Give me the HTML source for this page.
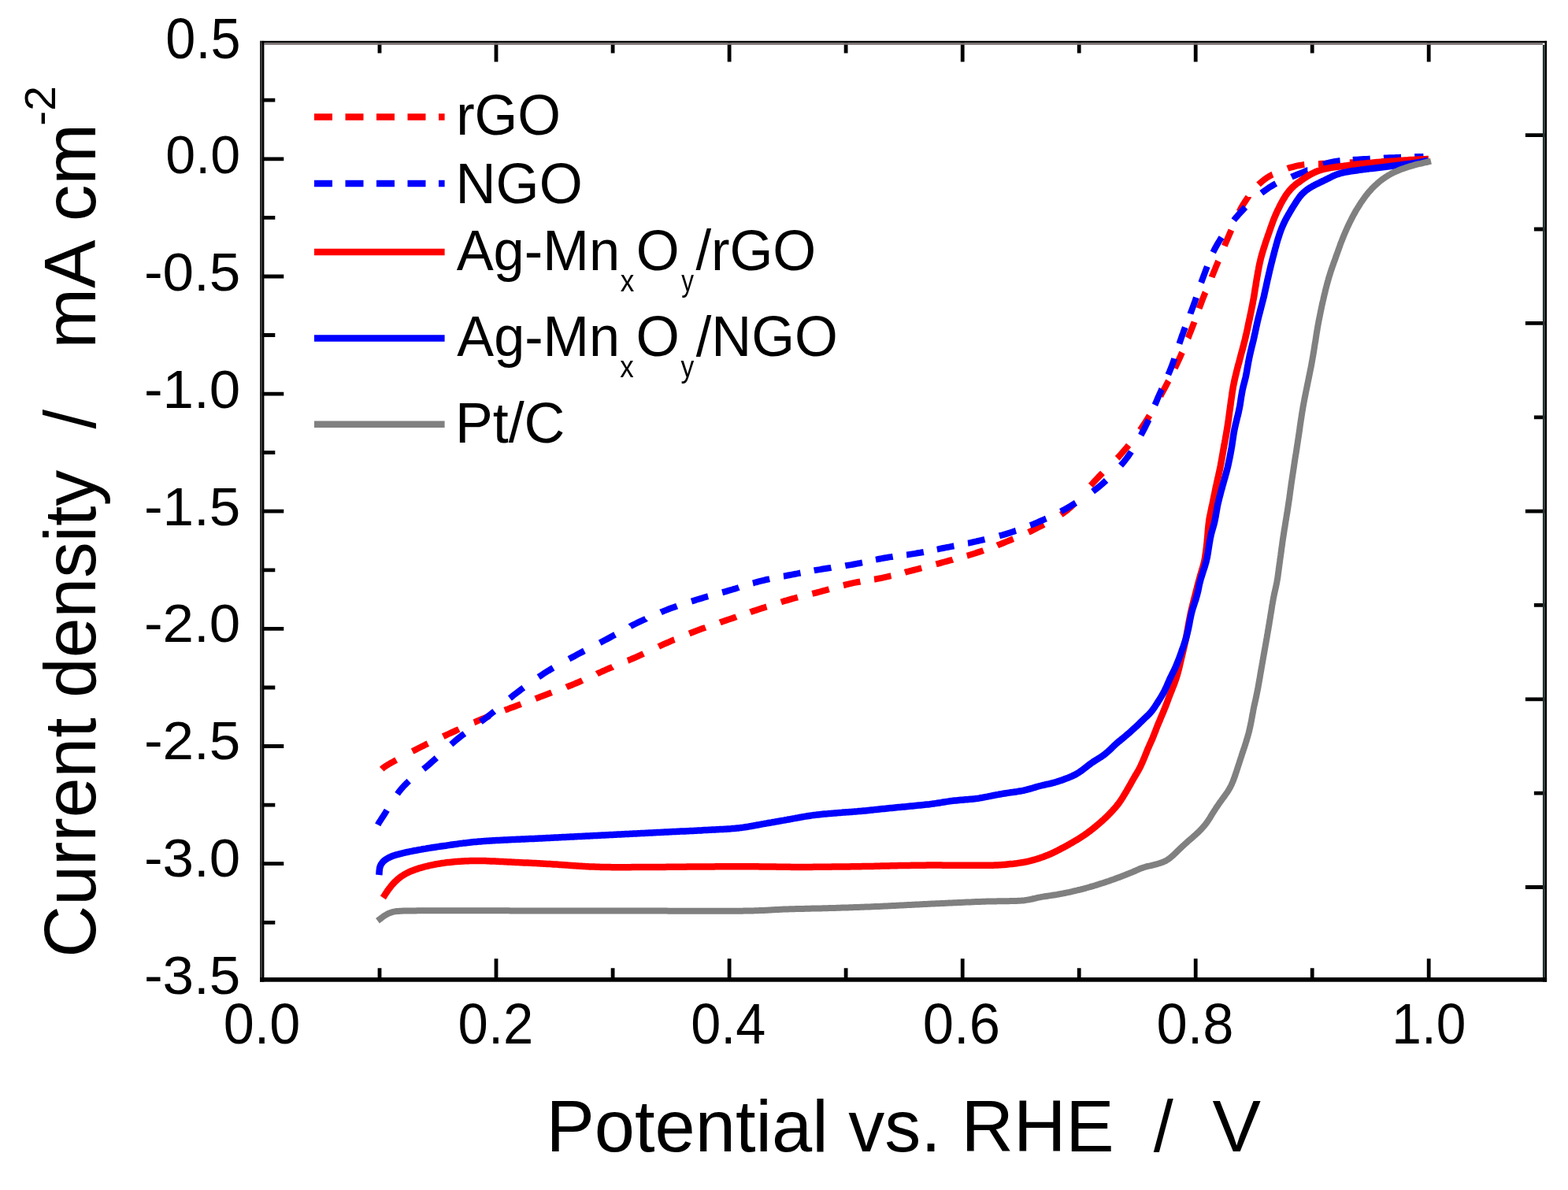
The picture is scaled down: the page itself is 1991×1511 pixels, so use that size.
<!DOCTYPE html>
<html><head><meta charset="utf-8"><title>ORR polarization curves</title>
<style>html,body{margin:0;padding:0;background:#fff;}svg{display:block;}</style>
</head><body>
<svg width="1991" height="1511" viewBox="0 0 1991 1511">
<rect x="0" y="0" width="1991" height="1511" fill="#ffffff"/>
<g fill="none" stroke-linejoin="round" stroke-linecap="butt" stroke-width="8">
<path stroke="#ff0000" d="M484.7,976.7 L484.8,976.6 L485.1,976.3 L485.4,976.0 L485.9,975.6 L486.4,975.1 L487.0,974.6 L487.8,974.0 L488.9,973.3 L490.2,972.5 L491.7,971.5 L493.6,970.4 L495.9,969.1 L498.5,967.6 L501.4,966.0 L503.2,965.0 M523.6,954.0 L526.4,952.6 L530.0,950.7 L533.4,949.0 L536.7,947.4 L540.0,945.7 L543.3,944.1 L543.3,944.1 M562.7,935.1 L562.9,935.0 L566.2,933.5 L569.4,932.0 L572.7,930.5 L576.0,929.0 L579.3,927.5 L582.5,926.0 L582.7,925.9 M601.9,917.3 L602.2,917.2 L605.5,915.8 L608.7,914.4 L612.0,913.0 L615.3,911.7 L618.5,910.3 L621.8,909.0 L622.2,908.9 M640.9,901.8 L641.4,901.6 L644.7,900.4 L647.9,899.1 L651.2,897.9 L654.5,896.7 L657.7,895.4 L661.0,894.2 L661.5,894.0 M679.9,887.1 L680.4,886.9 L683.7,885.7 L686.9,884.4 L690.2,883.2 L693.5,882.0 L696.7,880.8 L700.0,879.6 L700.5,879.4 M719.2,872.5 L719.6,872.3 L722.9,871.0 L726.2,869.7 L729.4,868.4 L732.6,867.0 L735.8,865.7 L739.1,864.2 L739.5,864.0 M757.9,855.6 L758.2,855.4 L761.5,854.0 L764.7,852.5 L767.9,851.1 L771.1,849.7 L774.4,848.3 L777.7,847.0 L778.0,846.8 M797.0,838.9 L797.3,838.8 L800.6,837.4 L803.8,836.0 L807.1,834.6 L810.4,833.1 L813.6,831.7 L816.9,830.1 L817.1,830.0 M836.3,821.0 L836.5,820.9 L839.8,819.4 L843.0,817.9 L846.3,816.5 L849.6,815.1 L852.8,813.7 L856.1,812.3 L856.4,812.2 M875.2,804.5 L875.7,804.3 L879.0,803.0 L882.2,801.7 L885.5,800.5 L888.8,799.3 L892.0,798.1 L895.3,796.9 L895.8,796.7 M914.2,790.4 L914.9,790.1 L918.1,789.0 L921.4,787.9 L924.6,786.8 L927.8,785.7 L931.0,784.6 L934.3,783.5 L935.0,783.2 M952.7,777.3 L953.4,777.0 L956.6,775.9 L959.9,774.9 L963.1,773.8 L966.3,772.7 L969.6,771.7 L972.8,770.6 L973.5,770.4 M991.8,764.5 L992.4,764.3 L995.7,763.2 L999.0,762.3 L1002.3,761.3 L1005.6,760.4 L1008.9,759.5 L1012.2,758.6 L1012.9,758.4 M1031.4,753.8 L1032.2,753.6 L1035.5,752.8 L1038.8,752.0 L1042.1,751.1 L1045.4,750.2 L1048.7,749.3 L1052.0,748.4 L1052.7,748.2 M1070.9,743.2 L1071.8,743.0 L1075.0,742.2 L1078.3,741.4 L1081.6,740.6 L1084.9,739.9 L1088.2,739.3 L1091.4,738.7 L1092.4,738.5 M1110.0,735.6 L1111.0,735.5 L1114.3,734.9 L1117.5,734.3 L1120.8,733.6 L1124.0,732.9 L1127.3,732.2 L1130.5,731.4 L1131.5,731.2 M1149.0,726.8 L1149.9,726.5 L1153.1,725.7 L1156.3,724.8 L1159.6,724.0 L1162.9,723.2 L1166.2,722.3 L1169.5,721.4 L1170.2,721.2 M1188.6,716.4 L1189.3,716.2 L1192.6,715.3 L1195.9,714.4 L1199.2,713.5 L1202.5,712.6 L1205.8,711.7 L1209.0,710.9 L1209.8,710.6 M1227.8,705.7 L1228.6,705.5 L1231.8,704.5 L1235.1,703.5 L1238.3,702.5 L1241.5,701.4 L1244.7,700.4 L1247.9,699.3 L1248.7,699.0 M1266.3,692.5 L1266.9,692.2 L1270.1,691.0 L1273.3,689.7 L1276.5,688.4 L1279.7,687.1 L1283.0,685.8 L1286.2,684.4 L1286.7,684.2 M1305.9,675.9 L1309.2,674.3 L1312.5,672.7 L1315.8,671.0 L1319.1,669.3 L1322.5,667.6 L1325.6,666.0 M1347.2,653.5 L1349.5,651.9 L1352.8,649.5 L1356.0,647.0 L1359.2,644.3 L1362.3,641.4 L1364.1,639.6 M1384.9,616.5 L1386.4,614.8 L1389.4,611.5 L1392.3,608.4 L1395.2,605.4 L1398.1,602.4 L1400.0,600.5 M1418.6,581.8 L1420.8,579.6 L1423.4,576.7 L1426.0,573.7 L1428.5,570.7 L1431.0,567.8 L1433.1,565.3 M1447.6,546.0 L1449.4,543.5 L1451.6,540.2 L1453.8,536.9 L1456.0,533.5 L1458.2,529.9 L1459.6,527.6 M1473.4,503.0 L1474.9,500.2 L1476.8,496.7 L1478.6,493.3 L1480.3,490.1 L1482.0,486.9 L1483.6,483.9 L1483.8,483.6 M1491.8,467.6 L1492.3,466.5 L1493.7,463.6 L1495.1,460.7 L1496.5,457.6 L1497.9,454.5 L1499.3,451.3 L1500.7,448.1 L1501.0,447.5 M1508.5,429.2 L1508.8,428.7 L1510.1,425.4 L1511.3,422.2 L1512.6,419.0 L1513.8,415.8 L1515.0,412.7 L1516.2,409.6 L1516.5,408.7 M1522.6,391.6 L1522.9,390.8 L1524.1,387.7 L1525.3,384.5 L1526.5,381.3 L1527.8,378.1 L1529.1,374.8 L1530.4,371.5 L1530.6,371.1 M1538.6,351.9 L1538.7,351.6 L1540.1,348.3 L1541.4,345.0 L1542.8,341.7 L1544.1,338.4 L1545.5,335.2 L1546.8,331.9 L1547.0,331.5 M1554.8,312.3 L1556.2,309.0 L1557.6,305.6 L1559.1,302.2 L1560.6,298.7 L1562.1,295.1 L1563.4,292.1 M1573.6,268.7 L1575.1,265.7 L1577.0,262.3 L1578.9,259.1 L1580.9,256.0 L1582.9,253.0 L1585.0,250.0 L1585.0,249.9 M1598.1,234.3 L1598.6,233.8 L1601.2,231.5 L1603.8,229.3 L1606.5,227.2 L1609.3,225.3 L1612.3,223.4 L1615.4,221.7 L1615.9,221.5 M1634.9,213.9 L1635.4,213.7 L1638.8,212.7 L1642.2,211.8 L1645.5,210.9 L1648.8,210.2 L1652.0,209.6 L1655.3,209.1 L1656.3,209.0 M1674.0,207.9 L1675.1,207.9 L1678.4,207.8 L1681.7,207.7 L1685.0,207.5 L1688.3,207.3 L1691.6,207.1 L1695.0,207.0 L1696.0,207.0 M1714.0,206.4 L1715.0,206.3 L1718.3,206.2 L1721.7,206.1 L1725.0,206.0 L1728.3,205.9 L1731.7,205.8 L1735.0,205.6 L1736.0,205.6 M1754.0,204.9 L1755.0,204.9 L1758.3,204.8 L1761.7,204.6 L1765.0,204.5 L1768.5,204.4 L1772.1,204.2 L1775.9,204.1 L1776.0,204.1 M1794.0,203.4 L1794.6,203.4 L1797.8,203.3 L1800.6,203.2 L1803.1,203.1 L1805.0,203.0 L1805.0,203.0"/>
<path stroke="#0000ff" d="M479.7,1047.3 L479.8,1047.1 L480.0,1046.8 L480.2,1046.5 L480.4,1046.1 L480.6,1045.7 L480.9,1045.1 L481.3,1044.5 L481.8,1043.7 L482.5,1042.6 L483.3,1041.4 L484.3,1039.8 L485.5,1038.0 L486.9,1035.8 L488.6,1033.2 L490.4,1030.2 L491.3,1028.7 M504.6,1008.2 L506.3,1005.8 L508.9,1002.6 L511.4,999.6 L514.0,996.8 L516.7,994.1 L519.2,991.8 M537.6,976.6 L540.1,974.6 L543.1,972.1 L546.0,969.6 L548.9,967.0 L551.8,964.4 L554.2,962.2 M572.8,945.2 L575.2,943.2 L578.2,940.6 L581.2,938.1 L584.3,935.6 L587.4,933.2 L589.9,931.4 M610.3,916.6 L612.8,914.8 L616.0,912.4 L619.1,910.0 L622.2,907.5 L625.3,905.0 L627.7,903.1 M647.4,886.6 L649.9,884.6 L652.9,882.2 L656.0,879.8 L659.1,877.5 L662.1,875.2 L664.8,873.2 M683.8,859.7 L686.7,857.8 L689.8,855.7 L693.0,853.7 L696.2,851.7 L699.4,849.8 L702.4,848.0 M722.5,836.8 L725.6,835.1 L728.9,833.4 L732.2,831.6 L735.5,829.8 L738.7,828.1 L741.9,826.4 M761.7,816.2 L764.9,814.5 L768.2,812.8 L771.4,811.1 L774.6,809.4 L777.9,807.6 L781.1,805.9 M800.3,795.4 L800.4,795.3 L803.6,793.6 L806.9,792.0 L810.1,790.4 L813.3,788.8 L816.6,787.3 L819.9,785.8 L820.0,785.7 M839.1,777.4 L839.5,777.2 L842.8,775.9 L846.0,774.6 L849.3,773.3 L852.6,772.1 L855.8,770.9 L859.1,769.7 L859.6,769.5 M878.0,763.5 L878.7,763.3 L882.0,762.3 L885.2,761.3 L888.5,760.3 L891.8,759.3 L895.0,758.3 L898.3,757.4 L899.1,757.2 M917.1,752.2 L917.9,752.0 L921.2,751.1 L924.4,750.1 L927.7,749.2 L930.9,748.2 L934.2,747.3 L937.4,746.3 L938.2,746.0 M955.9,740.5 L956.8,740.3 L960.0,739.3 L963.3,738.4 L966.5,737.6 L969.8,736.8 L973.0,736.0 L976.3,735.3 L977.2,735.1 M994.9,731.6 L995.9,731.5 L999.2,730.8 L1002.4,730.2 L1005.7,729.6 L1008.9,729.0 L1012.2,728.4 L1015.4,727.7 L1016.5,727.5 M1033.7,724.4 L1034.7,724.2 L1038.0,723.6 L1041.2,723.1 L1044.5,722.5 L1047.8,722.0 L1051.1,721.5 L1054.4,721.0 L1055.4,720.8 M1073.3,718.3 L1074.3,718.1 L1077.6,717.6 L1080.9,717.1 L1084.2,716.5 L1087.5,715.9 L1090.7,715.3 L1093.9,714.6 L1095.0,714.4 M1112.0,710.6 L1113.1,710.4 L1116.3,709.7 L1119.6,709.1 L1122.8,708.5 L1126.0,708.0 L1129.3,707.4 L1132.6,707.0 L1133.7,706.8 M1151.1,704.5 L1152.2,704.4 L1155.5,703.9 L1158.8,703.4 L1162.0,702.9 L1165.2,702.3 L1168.5,701.8 L1171.7,701.2 L1172.8,701.0 M1189.8,697.6 L1190.9,697.4 L1194.1,696.7 L1197.4,696.0 L1200.6,695.4 L1203.8,694.8 L1207.1,694.1 L1210.3,693.5 L1211.4,693.3 M1229.0,689.7 L1229.9,689.6 L1233.1,688.9 L1236.4,688.1 L1239.7,687.4 L1243.0,686.6 L1246.3,685.9 L1249.6,685.1 L1250.4,684.9 M1268.9,680.4 L1269.6,680.2 L1272.9,679.3 L1276.2,678.3 L1279.5,677.3 L1282.8,676.3 L1286.0,675.2 L1289.3,674.1 L1290.0,673.9 M1308.1,667.1 L1308.7,666.9 L1311.9,665.6 L1315.1,664.3 L1318.3,662.9 L1321.5,661.5 L1324.7,660.1 L1327.9,658.7 L1328.4,658.5 M1347.0,649.4 L1350.1,647.7 L1353.4,646.0 L1356.6,644.1 L1359.9,642.2 L1363.2,640.2 L1366.0,638.5 M1387.6,624.1 L1390.0,622.3 L1393.2,619.8 L1396.3,617.3 L1399.3,614.7 L1402.4,612.0 L1404.6,610.0 M1423.0,591.1 L1425.0,588.8 L1427.6,585.7 L1430.0,582.6 L1432.4,579.5 L1434.6,576.3 L1436.4,573.6 M1448.7,552.6 L1450.3,549.5 L1452.1,546.2 L1453.8,542.9 L1455.4,539.6 L1457.0,536.4 L1458.5,533.2 L1458.6,533.0 M1466.4,514.3 L1466.6,513.9 L1468.0,510.6 L1469.3,507.4 L1470.7,504.2 L1472.1,501.0 L1473.6,497.8 L1475.0,494.5 L1475.2,494.2 M1483.4,475.7 L1483.6,475.2 L1485.0,472.0 L1486.3,468.8 L1487.6,465.5 L1488.8,462.2 L1490.0,458.9 L1491.2,455.6 L1491.3,455.2 M1497.5,436.4 L1497.7,435.8 L1498.8,432.5 L1499.9,429.2 L1501.0,426.0 L1502.2,422.8 L1503.3,419.6 L1504.5,416.5 L1504.8,415.7 M1511.5,398.5 L1511.7,397.7 L1512.9,394.6 L1514.1,391.4 L1515.3,388.2 L1516.5,385.0 L1517.6,381.7 L1518.7,378.4 L1518.9,377.8 M1525.2,358.9 L1525.4,358.4 L1526.6,355.1 L1527.8,351.8 L1529.0,348.6 L1530.2,345.4 L1531.4,342.2 L1532.6,339.1 L1532.9,338.3 M1540.3,320.5 L1540.4,320.3 L1541.9,317.2 L1543.6,314.0 L1545.4,310.8 L1547.3,307.5 L1549.3,304.2 L1551.1,301.4 M1566.7,279.6 L1568.4,277.4 L1571.1,274.3 L1573.8,271.2 L1576.6,268.2 L1579.4,265.2 L1581.4,263.2 M1601.8,245.1 L1604.3,243.2 L1607.5,240.9 L1610.7,238.7 L1613.9,236.7 L1617.1,234.8 L1620.2,233.1 M1639.9,224.6 L1640.1,224.5 L1643.4,223.2 L1646.8,221.8 L1650.1,220.5 L1653.5,219.1 L1656.8,217.7 L1660.2,216.3 L1660.3,216.3 M1680.2,208.9 L1680.8,208.7 L1684.2,207.7 L1687.5,206.7 L1690.8,205.9 L1694.1,205.2 L1697.3,204.6 L1700.5,204.2 L1701.6,204.1 M1717.8,202.9 L1719.3,202.8 L1722.4,202.7 L1725.6,202.5 L1728.8,202.3 L1732.0,202.1 L1735.3,201.9 L1738.5,201.7 L1739.8,201.6 M1757.0,200.7 L1758.2,200.6 L1761.4,200.5 L1764.7,200.3 L1768.0,200.2 L1771.4,200.1 L1775.0,199.9 L1778.8,199.8 L1779.0,199.8 M1796.5,199.2 L1797.2,199.1 L1800.4,199.0 L1803.2,198.9 L1805.6,198.9 L1807.5,198.8 L1807.5,198.8"/>
<path stroke="#ff0000" stroke-width="8.5" d="M486.4,1139.8 L487.6,1138.0 L488.7,1136.3 L489.7,1134.7 L490.8,1133.1 L491.9,1131.4 L493.1,1129.8 L494.2,1128.2 L495.5,1126.6 L496.7,1125.0 L498.0,1123.5 L499.3,1122.0 L500.7,1120.5 L502.1,1119.1 L503.5,1117.8 L505.0,1116.4 L506.5,1115.2 L508.1,1113.9 L509.7,1112.8 L511.4,1111.7 L513.1,1110.6 L514.8,1109.6 L516.6,1108.6 L518.4,1107.8 L520.2,1106.9 L522.0,1106.1 L523.9,1105.4 L525.7,1104.7 L527.6,1104.0 L529.5,1103.4 L531.4,1102.7 L533.3,1102.2 L535.2,1101.6 L537.2,1101.1 L539.1,1100.5 L541.1,1100.0 L543.0,1099.6 L544.9,1099.1 L546.9,1098.7 L548.9,1098.3 L550.8,1097.9 L552.8,1097.5 L554.8,1097.1 L556.7,1096.8 L558.7,1096.5 L560.7,1096.1 L562.7,1095.9 L564.6,1095.6 L566.6,1095.3 L568.6,1095.1 L570.6,1094.9 L572.6,1094.7 L574.6,1094.5 L576.6,1094.3 L578.6,1094.1 L580.6,1094.0 L582.6,1093.8 L584.6,1093.7 L586.6,1093.5 L588.6,1093.4 L590.6,1093.3 L592.6,1093.2 L594.6,1093.2 L596.6,1093.1 L598.6,1093.0 L600.6,1093.0 L602.6,1093.0 L604.6,1092.9 L606.6,1092.9 L608.6,1093.0 L610.6,1093.0 L612.6,1093.0 L614.6,1093.1 L616.6,1093.1 L618.6,1093.2 L620.6,1093.3 L622.6,1093.4 L624.6,1093.4 L626.6,1093.5 L628.6,1093.6 L630.6,1093.7 L632.6,1093.8 L634.6,1093.9 L636.6,1094.0 L638.6,1094.1 L640.6,1094.2 L642.6,1094.3 L644.6,1094.4 L646.6,1094.5 L648.6,1094.6 L650.6,1094.7 L652.6,1094.8 L654.6,1094.9 L656.6,1095.0 L658.6,1095.1 L660.6,1095.2 L662.6,1095.3 L664.6,1095.4 L666.6,1095.5 L668.6,1095.5 L670.6,1095.6 L672.6,1095.7 L674.6,1095.8 L676.6,1095.9 L678.6,1096.0 L680.6,1096.1 L682.6,1096.2 L684.6,1096.3 L686.6,1096.5 L688.6,1096.6 L690.6,1096.7 L692.6,1096.8 L694.6,1096.9 L696.6,1097.0 L698.6,1097.1 L700.6,1097.2 L702.6,1097.4 L704.6,1097.5 L706.6,1097.6 L708.6,1097.7 L710.6,1097.9 L712.6,1098.0 L714.6,1098.2 L716.6,1098.3 L718.6,1098.4 L720.6,1098.6 L722.6,1098.7 L724.6,1098.9 L726.6,1099.0 L728.6,1099.2 L730.6,1099.3 L732.6,1099.4 L734.6,1099.6 L736.6,1099.7 L738.6,1099.8 L740.6,1099.9 L742.6,1100.1 L744.6,1100.2 L746.5,1100.3 L748.5,1100.4 L750.5,1100.5 L752.6,1100.6 L754.6,1100.6 L756.6,1100.7 L758.6,1100.8 L760.6,1100.8 L762.6,1100.9 L764.6,1101.0 L766.6,1101.0 L768.6,1101.0 L770.6,1101.1 L772.6,1101.1 L774.6,1101.1 L776.6,1101.2 L778.6,1101.2 L780.6,1101.2 L782.6,1101.2 L784.6,1101.2 L786.6,1101.2 L788.6,1101.2 L790.6,1101.2 L792.6,1101.2 L794.6,1101.2 L796.6,1101.2 L798.6,1101.2 L800.6,1101.2 L802.6,1101.1 L804.6,1101.1 L806.6,1101.1 L808.6,1101.1 L810.6,1101.1 L812.6,1101.1 L814.6,1101.0 L816.6,1101.0 L818.6,1101.0 L820.6,1101.0 L822.6,1101.0 L824.6,1101.0 L826.6,1101.0 L828.6,1100.9 L830.6,1100.9 L832.6,1100.9 L834.6,1100.9 L836.6,1100.9 L838.6,1100.9 L840.7,1100.9 L842.7,1100.9 L844.7,1100.9 L846.7,1100.8 L848.7,1100.8 L850.7,1100.8 L852.7,1100.8 L854.7,1100.8 L856.7,1100.8 L858.7,1100.8 L860.7,1100.7 L862.7,1100.7 L864.7,1100.7 L866.7,1100.7 L868.7,1100.7 L870.7,1100.7 L872.7,1100.6 L874.7,1100.6 L876.7,1100.6 L878.7,1100.6 L880.7,1100.6 L882.7,1100.6 L884.7,1100.5 L886.7,1100.5 L888.7,1100.5 L890.7,1100.5 L892.7,1100.5 L894.7,1100.5 L896.7,1100.4 L898.7,1100.4 L900.7,1100.4 L902.7,1100.4 L904.7,1100.4 L906.7,1100.4 L908.7,1100.3 L910.7,1100.3 L912.7,1100.3 L914.7,1100.3 L916.7,1100.3 L918.7,1100.3 L920.7,1100.3 L922.8,1100.3 L924.8,1100.2 L926.8,1100.2 L928.8,1100.2 L930.8,1100.2 L932.8,1100.2 L934.8,1100.2 L936.8,1100.2 L938.8,1100.2 L940.8,1100.2 L942.8,1100.2 L944.8,1100.2 L946.8,1100.2 L948.8,1100.2 L950.8,1100.2 L952.8,1100.3 L954.8,1100.3 L956.8,1100.3 L958.8,1100.3 L960.8,1100.3 L962.8,1100.3 L964.8,1100.4 L966.8,1100.4 L968.8,1100.4 L970.8,1100.4 L972.8,1100.5 L974.8,1100.5 L976.8,1100.5 L978.8,1100.5 L980.8,1100.6 L982.8,1100.6 L984.8,1100.6 L986.8,1100.7 L988.8,1100.7 L990.8,1100.7 L992.8,1100.7 L994.8,1100.8 L996.8,1100.8 L998.8,1100.8 L1000.8,1100.8 L1002.8,1100.8 L1004.9,1100.9 L1006.9,1100.9 L1008.9,1100.9 L1010.9,1100.9 L1012.9,1100.9 L1014.9,1100.9 L1016.9,1100.9 L1018.9,1100.9 L1020.9,1100.9 L1022.9,1100.9 L1024.9,1100.9 L1026.9,1100.9 L1028.9,1100.9 L1030.9,1100.9 L1032.9,1100.8 L1034.9,1100.8 L1036.9,1100.8 L1038.9,1100.8 L1040.9,1100.8 L1042.9,1100.8 L1044.9,1100.8 L1046.9,1100.7 L1048.9,1100.7 L1050.9,1100.7 L1052.9,1100.7 L1054.9,1100.7 L1056.9,1100.6 L1058.9,1100.6 L1060.9,1100.6 L1062.9,1100.6 L1064.9,1100.5 L1066.9,1100.5 L1068.9,1100.5 L1070.9,1100.5 L1072.9,1100.4 L1074.9,1100.4 L1076.9,1100.4 L1078.9,1100.4 L1080.9,1100.3 L1082.9,1100.3 L1084.9,1100.3 L1086.9,1100.3 L1089.0,1100.2 L1091.0,1100.2 L1093.0,1100.2 L1095.0,1100.1 L1097.0,1100.1 L1099.0,1100.1 L1101.0,1100.0 L1103.0,1100.0 L1105.0,1099.9 L1107.0,1099.9 L1109.0,1099.9 L1111.0,1099.8 L1113.0,1099.8 L1115.0,1099.7 L1117.0,1099.7 L1119.0,1099.6 L1121.0,1099.6 L1123.0,1099.5 L1125.0,1099.5 L1127.0,1099.4 L1129.0,1099.4 L1131.0,1099.3 L1133.0,1099.3 L1135.0,1099.2 L1137.0,1099.2 L1139.0,1099.2 L1141.0,1099.1 L1143.0,1099.1 L1145.0,1099.0 L1147.0,1099.0 L1149.0,1099.0 L1151.0,1098.9 L1153.0,1098.9 L1155.0,1098.9 L1157.0,1098.8 L1159.0,1098.8 L1161.0,1098.8 L1163.0,1098.7 L1165.0,1098.7 L1167.0,1098.7 L1169.0,1098.7 L1171.0,1098.7 L1173.0,1098.7 L1175.0,1098.7 L1177.0,1098.6 L1179.0,1098.6 L1181.1,1098.6 L1183.1,1098.6 L1185.1,1098.6 L1187.1,1098.6 L1189.1,1098.6 L1191.1,1098.6 L1193.1,1098.6 L1195.1,1098.6 L1197.1,1098.7 L1199.1,1098.7 L1201.1,1098.7 L1203.1,1098.7 L1205.1,1098.7 L1207.1,1098.7 L1209.1,1098.7 L1211.1,1098.7 L1213.1,1098.7 L1215.1,1098.7 L1217.1,1098.7 L1219.1,1098.8 L1221.1,1098.8 L1223.1,1098.8 L1225.1,1098.8 L1227.1,1098.8 L1229.1,1098.8 L1231.1,1098.8 L1233.1,1098.8 L1235.1,1098.8 L1237.1,1098.8 L1239.1,1098.8 L1241.1,1098.8 L1243.1,1098.8 L1245.1,1098.8 L1247.1,1098.8 L1249.1,1098.8 L1251.1,1098.8 L1253.1,1098.8 L1255.1,1098.8 L1257.1,1098.7 L1259.1,1098.7 L1261.2,1098.7 L1263.2,1098.6 L1265.2,1098.5 L1267.2,1098.4 L1269.2,1098.3 L1271.1,1098.2 L1273.1,1098.0 L1275.1,1097.9 L1277.1,1097.7 L1279.1,1097.5 L1281.1,1097.3 L1283.1,1097.1 L1285.1,1096.9 L1287.1,1096.7 L1289.1,1096.4 L1291.1,1096.2 L1293.0,1095.9 L1295.0,1095.6 L1297.0,1095.3 L1299.0,1095.0 L1301.0,1094.6 L1302.9,1094.3 L1304.9,1093.8 L1306.8,1093.4 L1308.8,1092.9 L1310.7,1092.4 L1312.6,1091.8 L1314.5,1091.3 L1316.5,1090.7 L1318.4,1090.1 L1320.3,1089.5 L1322.2,1088.8 L1324.1,1088.2 L1326.0,1087.5 L1327.8,1086.8 L1329.7,1086.1 L1331.5,1085.3 L1333.4,1084.6 L1335.2,1083.7 L1337.0,1082.9 L1338.8,1082.0 L1340.6,1081.1 L1342.4,1080.2 L1344.2,1079.3 L1346.0,1078.4 L1347.7,1077.4 L1349.5,1076.5 L1351.3,1075.6 L1353.0,1074.6 L1354.8,1073.7 L1356.5,1072.7 L1358.3,1071.7 L1360.0,1070.7 L1361.8,1069.7 L1363.5,1068.7 L1365.2,1067.7 L1366.9,1066.7 L1368.6,1065.6 L1370.3,1064.6 L1372.0,1063.5 L1373.7,1062.4 L1375.4,1061.3 L1377.0,1060.2 L1378.7,1059.0 L1380.3,1057.9 L1381.9,1056.7 L1383.5,1055.5 L1385.1,1054.3 L1386.7,1053.0 L1388.3,1051.8 L1389.8,1050.5 L1391.4,1049.3 L1392.9,1048.0 L1394.4,1046.7 L1396.0,1045.4 L1397.5,1044.1 L1399.0,1042.8 L1400.5,1041.4 L1402.0,1040.1 L1403.4,1038.7 L1404.9,1037.3 L1406.3,1035.9 L1407.7,1034.5 L1409.1,1033.1 L1410.5,1031.6 L1411.9,1030.2 L1413.2,1028.7 L1414.6,1027.2 L1415.9,1025.7 L1417.2,1024.2 L1418.4,1022.6 L1419.7,1021.1 L1420.9,1019.5 L1422.0,1017.9 L1423.2,1016.2 L1424.3,1014.5 L1425.4,1012.8 L1426.4,1011.1 L1427.4,1009.4 L1428.5,1007.7 L1429.5,1006.0 L1430.5,1004.3 L1431.5,1002.5 L1432.5,1000.8 L1433.5,999.0 L1434.5,997.3 L1435.5,995.6 L1436.4,993.8 L1437.4,992.1 L1438.4,990.3 L1439.4,988.6 L1440.4,986.9 L1441.4,985.1 L1442.5,983.4 L1443.5,981.7 L1444.5,980.0 L1445.5,978.2 L1446.4,976.5 L1447.4,974.7 L1448.3,972.9 L1449.1,971.1 L1449.9,969.3 L1450.7,967.5 L1451.5,965.6 L1452.3,963.8 L1453.1,961.9 L1453.8,960.1 L1454.6,958.2 L1455.3,956.4 L1456.1,954.5 L1456.8,952.6 L1457.6,950.8 L1458.4,949.0 L1459.2,947.1 L1460.0,945.3 L1460.8,943.5 L1461.7,941.6 L1462.5,939.8 L1463.3,938.0 L1464.0,936.1 L1464.8,934.3 L1465.5,932.4 L1466.2,930.5 L1467.0,928.7 L1467.7,926.8 L1468.4,924.9 L1469.1,923.1 L1469.9,921.2 L1470.6,919.4 L1471.4,917.5 L1472.2,915.7 L1473.0,913.8 L1473.7,912.0 L1474.5,910.1 L1475.3,908.3 L1476.1,906.4 L1476.9,904.6 L1477.6,902.8 L1478.4,900.9 L1479.1,899.0 L1479.9,897.2 L1480.6,895.3 L1481.3,893.5 L1482.0,891.6 L1482.7,889.7 L1483.4,887.8 L1484.1,885.9 L1484.8,884.1 L1485.5,882.2 L1486.3,880.3 L1487.0,878.5 L1487.8,876.6 L1488.5,874.8 L1489.2,872.9 L1490.0,871.0 L1490.7,869.2 L1491.4,867.3 L1492.1,865.4 L1492.7,863.5 L1493.4,861.6 L1494.0,859.7 L1494.6,857.8 L1495.1,855.9 L1495.7,854.0 L1496.2,852.0 L1496.7,850.1 L1497.2,848.1 L1497.7,846.2 L1498.1,844.3 L1498.6,842.3 L1499.0,840.4 L1499.5,838.4 L1499.9,836.4 L1500.4,834.5 L1500.9,832.6 L1501.3,830.6 L1501.8,828.7 L1502.3,826.7 L1502.7,824.8 L1503.2,822.8 L1503.6,820.9 L1504.1,818.9 L1504.5,817.0 L1505.0,815.0 L1505.4,813.0 L1505.8,811.1 L1506.2,809.1 L1506.6,807.2 L1506.9,805.2 L1507.3,803.2 L1507.6,801.2 L1508.0,799.3 L1508.3,797.3 L1508.7,795.3 L1509.0,793.4 L1509.4,791.4 L1509.8,789.4 L1510.1,787.5 L1510.5,785.5 L1510.9,783.5 L1511.3,781.6 L1511.7,779.6 L1512.1,777.6 L1512.6,775.7 L1513.0,773.7 L1513.5,771.8 L1514.0,769.8 L1514.4,767.9 L1514.9,766.0 L1515.4,764.0 L1515.9,762.1 L1516.4,760.1 L1516.9,758.2 L1517.4,756.2 L1517.9,754.3 L1518.4,752.4 L1518.9,750.4 L1519.4,748.5 L1519.9,746.6 L1520.4,744.6 L1520.9,742.7 L1521.4,740.7 L1521.9,738.8 L1522.5,736.9 L1523.0,735.0 L1523.5,733.0 L1524.1,731.1 L1524.6,729.2 L1525.2,727.2 L1525.8,725.3 L1526.3,723.4 L1526.9,721.5 L1527.5,719.6 L1528.0,717.7 L1528.5,715.7 L1529.0,713.8 L1529.4,711.8 L1529.8,709.9 L1530.1,707.9 L1530.4,705.9 L1530.7,703.9 L1531.0,701.9 L1531.3,700.0 L1531.5,698.0 L1531.8,696.0 L1532.0,694.0 L1532.2,692.0 L1532.5,690.0 L1532.7,688.0 L1532.8,686.0 L1533.0,684.0 L1533.2,682.0 L1533.4,680.0 L1533.5,678.1 L1533.7,676.1 L1533.8,674.1 L1534.0,672.1 L1534.2,670.1 L1534.4,668.1 L1534.6,666.1 L1534.9,664.1 L1535.1,662.1 L1535.4,660.1 L1535.7,658.2 L1536.1,656.2 L1536.5,654.2 L1536.9,652.3 L1537.3,650.3 L1537.7,648.3 L1538.1,646.4 L1538.5,644.4 L1538.9,642.5 L1539.4,640.5 L1539.8,638.6 L1540.2,636.6 L1540.6,634.6 L1541.0,632.7 L1541.4,630.7 L1541.8,628.7 L1542.2,626.8 L1542.6,624.8 L1543.0,622.9 L1543.4,620.9 L1543.8,618.9 L1544.2,617.0 L1544.7,615.0 L1545.1,613.1 L1545.5,611.1 L1546.0,609.2 L1546.4,607.2 L1546.9,605.3 L1547.3,603.3 L1547.7,601.4 L1548.2,599.4 L1548.6,597.4 L1549.0,595.5 L1549.4,593.5 L1549.8,591.5 L1550.1,589.6 L1550.5,587.6 L1550.9,585.6 L1551.2,583.7 L1551.6,581.7 L1551.9,579.7 L1552.2,577.8 L1552.6,575.8 L1552.9,573.8 L1553.3,571.8 L1553.6,569.9 L1554.0,567.9 L1554.3,565.9 L1554.7,564.0 L1555.1,562.0 L1555.4,560.0 L1555.8,558.0 L1556.1,556.1 L1556.5,554.1 L1556.9,552.1 L1557.2,550.2 L1557.5,548.2 L1557.9,546.2 L1558.2,544.2 L1558.5,542.3 L1558.8,540.3 L1559.1,538.3 L1559.4,536.3 L1559.7,534.3 L1560.0,532.4 L1560.2,530.4 L1560.5,528.4 L1560.8,526.4 L1561.0,524.4 L1561.3,522.4 L1561.6,520.4 L1561.9,518.5 L1562.1,516.5 L1562.4,514.5 L1562.7,512.5 L1562.9,510.5 L1563.2,508.5 L1563.5,506.6 L1563.8,504.6 L1564.1,502.6 L1564.3,500.6 L1564.6,498.6 L1564.9,496.7 L1565.3,494.7 L1565.6,492.7 L1565.9,490.7 L1566.3,488.8 L1566.7,486.8 L1567.1,484.8 L1567.5,482.9 L1568.0,480.9 L1568.4,479.0 L1568.9,477.0 L1569.4,475.1 L1569.8,473.1 L1570.3,471.2 L1570.8,469.3 L1571.3,467.3 L1571.8,465.4 L1572.3,463.4 L1572.9,461.5 L1573.4,459.6 L1573.9,457.6 L1574.4,455.7 L1574.9,453.8 L1575.4,451.8 L1575.9,449.9 L1576.4,448.0 L1577.0,446.0 L1577.5,444.1 L1578.0,442.2 L1578.5,440.2 L1579.0,438.3 L1579.5,436.3 L1580.0,434.4 L1580.5,432.5 L1581.0,430.5 L1581.4,428.6 L1581.9,426.6 L1582.3,424.7 L1582.8,422.7 L1583.2,420.8 L1583.7,418.8 L1584.1,416.8 L1584.5,414.9 L1584.9,412.9 L1585.3,411.0 L1585.7,409.0 L1586.1,407.1 L1586.6,405.1 L1587.0,403.1 L1587.4,401.2 L1587.8,399.2 L1588.2,397.3 L1588.6,395.3 L1589.0,393.3 L1589.4,391.4 L1589.8,389.4 L1590.2,387.4 L1590.6,385.5 L1590.9,383.5 L1591.3,381.5 L1591.7,379.6 L1592.0,377.6 L1592.4,375.6 L1592.7,373.6 L1593.0,371.7 L1593.3,369.7 L1593.6,367.7 L1593.9,365.7 L1594.3,363.8 L1594.6,361.8 L1594.9,359.8 L1595.2,357.8 L1595.5,355.9 L1595.9,353.9 L1596.2,351.9 L1596.6,349.9 L1596.9,348.0 L1597.2,346.0 L1597.6,344.0 L1598.0,342.0 L1598.3,340.1 L1598.7,338.1 L1599.1,336.2 L1599.5,334.2 L1600.0,332.2 L1600.4,330.3 L1600.9,328.3 L1601.4,326.4 L1601.9,324.5 L1602.5,322.5 L1603.0,320.6 L1603.6,318.7 L1604.2,316.8 L1604.8,314.9 L1605.4,313.0 L1606.0,311.1 L1606.6,309.2 L1607.2,307.3 L1607.9,305.4 L1608.5,303.5 L1609.2,301.6 L1609.8,299.7 L1610.5,297.8 L1611.2,295.9 L1611.8,294.0 L1612.5,292.1 L1613.1,290.2 L1613.8,288.3 L1614.5,286.5 L1615.1,284.6 L1615.8,282.7 L1616.5,280.8 L1617.2,278.9 L1618.0,277.1 L1618.7,275.2 L1619.5,273.4 L1620.3,271.5 L1621.1,269.7 L1621.9,267.9 L1622.8,266.1 L1623.7,264.3 L1624.6,262.5 L1625.5,260.7 L1626.4,258.9 L1627.4,257.2 L1628.3,255.4 L1629.3,253.7 L1630.3,252.0 L1631.4,250.2 L1632.4,248.6 L1633.5,246.9 L1634.7,245.3 L1635.9,243.7 L1637.2,242.1 L1638.5,240.6 L1639.8,239.2 L1641.2,237.8 L1642.7,236.4 L1644.2,235.1 L1645.8,233.8 L1647.3,232.6 L1649.0,231.5 L1650.6,230.3 L1652.2,229.1 L1653.8,228.0 L1655.5,226.8 L1657.1,225.7 L1658.8,224.6 L1660.5,223.5 L1662.2,222.5 L1664.0,221.5 L1665.7,220.6 L1667.5,219.7 L1669.3,218.8 L1671.1,218.0 L1673.0,217.3 L1674.8,216.6 L1676.7,215.9 L1678.7,215.4 L1680.6,214.9 L1682.5,214.4 L1684.5,214.0 L1686.4,213.6 L1688.4,213.2 L1690.4,212.9 L1692.4,212.6 L1694.3,212.3 L1696.3,212.0 L1698.3,211.7 L1700.3,211.5 L1702.3,211.2 L1704.3,210.9 L1706.2,210.7 L1708.2,210.4 L1710.2,210.2 L1712.2,209.9 L1714.2,209.7 L1716.2,209.5 L1718.2,209.2 L1720.2,209.0 L1722.2,208.8 L1724.1,208.6 L1726.1,208.3 L1728.1,208.1 L1730.1,207.9 L1732.1,207.7 L1734.1,207.5 L1736.1,207.3 L1738.1,207.1 L1740.1,206.9 L1742.1,206.7 L1744.1,206.5 L1746.1,206.3 L1748.1,206.1 L1750.0,206.0 L1752.0,205.8 L1754.0,205.7 L1756.0,205.5 L1758.0,205.4 L1760.0,205.2 L1762.0,205.1 L1764.0,205.0 L1766.0,204.8 L1768.0,204.7 L1770.0,204.6 L1772.0,204.4 L1774.0,204.3 L1776.0,204.1 L1778.0,204.0 L1780.0,203.8 L1782.0,203.7 L1784.0,203.5 L1786.0,203.4 L1788.0,203.3 L1790.0,203.1 L1792.0,203.0 L1794.0,202.9 L1796.0,202.8 L1798.0,202.7 L1800.0,202.6 L1802.0,202.5 L1804.0,202.4 L1805.9,202.3 L1807.9,202.3 L1809.9,202.2 L1811.9,202.1 L1814.0,202.0"/>
<path stroke="#0000ff" stroke-width="8.5" d="M481.3,1111.0 L481.5,1108.9 L481.6,1106.9 L481.8,1104.9 L482.0,1103.0 L482.4,1101.1 L483.0,1099.3 L483.9,1097.5 L485.0,1096.0 L486.1,1094.5 L487.5,1093.1 L489.0,1091.9 L490.6,1090.8 L492.3,1089.8 L494.1,1088.9 L495.9,1088.0 L497.7,1087.3 L499.6,1086.6 L501.5,1085.9 L503.4,1085.3 L505.3,1084.8 L507.2,1084.3 L509.2,1083.8 L511.1,1083.3 L513.1,1082.9 L515.0,1082.4 L517.0,1082.0 L519.0,1081.6 L520.9,1081.2 L522.9,1080.8 L524.8,1080.4 L526.8,1080.0 L528.8,1079.7 L530.7,1079.3 L532.7,1078.9 L534.7,1078.6 L536.7,1078.2 L538.6,1077.9 L540.6,1077.6 L542.6,1077.2 L544.6,1076.9 L546.5,1076.6 L548.5,1076.3 L550.5,1076.0 L552.5,1075.7 L554.5,1075.4 L556.4,1075.1 L558.4,1074.8 L560.4,1074.5 L562.4,1074.2 L564.4,1073.9 L566.3,1073.7 L568.3,1073.4 L570.3,1073.1 L572.3,1072.8 L574.3,1072.5 L576.3,1072.2 L578.2,1071.9 L580.2,1071.7 L582.2,1071.4 L584.2,1071.1 L586.2,1070.9 L588.2,1070.6 L590.2,1070.4 L592.1,1070.2 L594.1,1069.9 L596.1,1069.7 L598.1,1069.5 L600.1,1069.3 L602.1,1069.1 L604.1,1068.9 L606.1,1068.7 L608.1,1068.5 L610.1,1068.4 L612.1,1068.2 L614.1,1068.1 L616.1,1067.9 L618.1,1067.8 L620.1,1067.7 L622.1,1067.5 L624.1,1067.4 L626.1,1067.3 L628.1,1067.2 L630.1,1067.1 L632.1,1067.0 L634.1,1066.9 L636.1,1066.8 L638.1,1066.7 L640.1,1066.6 L642.1,1066.5 L644.1,1066.4 L646.1,1066.3 L648.1,1066.2 L650.1,1066.1 L652.1,1066.0 L654.1,1065.9 L656.1,1065.8 L658.1,1065.8 L660.1,1065.7 L662.1,1065.6 L664.1,1065.5 L666.1,1065.4 L668.1,1065.3 L670.1,1065.2 L672.1,1065.1 L674.1,1065.1 L676.1,1065.0 L678.1,1064.9 L680.1,1064.8 L682.1,1064.7 L684.1,1064.6 L686.1,1064.5 L688.1,1064.4 L690.1,1064.3 L692.1,1064.2 L694.1,1064.1 L696.1,1064.0 L698.1,1063.9 L700.1,1063.8 L702.1,1063.7 L704.1,1063.6 L706.1,1063.5 L708.1,1063.4 L710.1,1063.3 L712.1,1063.2 L714.1,1063.1 L716.1,1063.0 L718.1,1062.9 L720.1,1062.8 L722.1,1062.7 L724.1,1062.6 L726.1,1062.5 L728.1,1062.4 L730.1,1062.3 L732.1,1062.2 L734.1,1062.1 L736.1,1062.0 L738.1,1061.9 L740.1,1061.8 L742.1,1061.7 L744.1,1061.6 L746.1,1061.5 L748.1,1061.4 L750.1,1061.3 L752.1,1061.2 L754.1,1061.1 L756.1,1061.0 L758.1,1060.9 L760.1,1060.8 L762.1,1060.7 L764.1,1060.6 L766.1,1060.5 L768.1,1060.4 L770.1,1060.3 L772.1,1060.2 L774.1,1060.1 L776.1,1060.0 L778.1,1059.9 L780.1,1059.8 L782.1,1059.7 L784.1,1059.6 L786.1,1059.5 L788.1,1059.4 L790.1,1059.3 L792.1,1059.2 L794.1,1059.1 L796.1,1059.0 L798.1,1058.9 L800.1,1058.8 L802.1,1058.7 L804.1,1058.6 L806.1,1058.5 L808.1,1058.4 L810.1,1058.3 L812.1,1058.2 L814.1,1058.1 L816.1,1058.0 L818.1,1057.9 L820.1,1057.8 L822.1,1057.7 L824.1,1057.6 L826.1,1057.5 L828.1,1057.4 L830.1,1057.3 L832.1,1057.2 L834.1,1057.1 L836.1,1057.0 L838.1,1056.9 L840.1,1056.8 L842.1,1056.7 L844.1,1056.6 L846.1,1056.5 L848.1,1056.4 L850.1,1056.3 L852.1,1056.2 L854.1,1056.1 L856.1,1056.0 L858.1,1055.9 L860.1,1055.8 L862.1,1055.7 L864.1,1055.6 L866.1,1055.5 L868.1,1055.4 L870.1,1055.4 L872.1,1055.3 L874.1,1055.2 L876.1,1055.1 L878.1,1055.0 L880.1,1054.9 L882.1,1054.8 L884.1,1054.7 L886.1,1054.6 L888.1,1054.5 L890.1,1054.4 L892.1,1054.2 L894.1,1054.1 L896.1,1054.0 L898.1,1053.9 L900.1,1053.8 L902.1,1053.7 L904.1,1053.6 L906.1,1053.5 L908.1,1053.4 L910.1,1053.3 L912.1,1053.2 L914.1,1053.1 L916.1,1053.0 L918.1,1052.9 L920.1,1052.8 L922.1,1052.7 L924.1,1052.5 L926.1,1052.4 L928.1,1052.3 L930.1,1052.1 L932.1,1052.0 L934.1,1051.8 L936.1,1051.6 L938.1,1051.4 L940.0,1051.1 L942.0,1050.9 L944.0,1050.6 L946.0,1050.3 L948.0,1050.0 L949.9,1049.7 L951.9,1049.3 L953.9,1049.0 L955.9,1048.6 L957.8,1048.3 L959.8,1047.9 L961.8,1047.5 L963.7,1047.2 L965.7,1046.8 L967.7,1046.4 L969.6,1046.1 L971.6,1045.7 L973.6,1045.4 L975.6,1045.0 L977.5,1044.7 L979.5,1044.4 L981.5,1044.0 L983.5,1043.7 L985.4,1043.3 L987.4,1043.0 L989.4,1042.6 L991.3,1042.3 L993.3,1041.9 L995.3,1041.6 L997.3,1041.2 L999.2,1040.9 L1001.2,1040.5 L1003.2,1040.2 L1005.1,1039.8 L1007.1,1039.4 L1009.1,1039.1 L1011.0,1038.7 L1013.0,1038.4 L1015.0,1038.0 L1017.0,1037.6 L1018.9,1037.3 L1020.9,1036.9 L1022.9,1036.6 L1024.9,1036.3 L1026.8,1036.0 L1028.8,1035.7 L1030.8,1035.4 L1032.8,1035.1 L1034.8,1034.9 L1036.8,1034.6 L1038.7,1034.4 L1040.7,1034.2 L1042.7,1034.0 L1044.7,1033.8 L1046.7,1033.6 L1048.7,1033.4 L1050.7,1033.3 L1052.7,1033.1 L1054.7,1032.9 L1056.7,1032.7 L1058.7,1032.6 L1060.7,1032.4 L1062.7,1032.2 L1064.7,1032.1 L1066.7,1031.9 L1068.7,1031.8 L1070.7,1031.6 L1072.7,1031.5 L1074.7,1031.3 L1076.7,1031.2 L1078.7,1031.0 L1080.6,1030.9 L1082.6,1030.7 L1084.6,1030.6 L1086.6,1030.4 L1088.6,1030.3 L1090.6,1030.1 L1092.6,1029.9 L1094.6,1029.7 L1096.6,1029.5 L1098.6,1029.4 L1100.6,1029.2 L1102.6,1029.0 L1104.6,1028.8 L1106.6,1028.6 L1108.6,1028.4 L1110.6,1028.1 L1112.6,1027.9 L1114.5,1027.7 L1116.5,1027.5 L1118.5,1027.3 L1120.5,1027.1 L1122.5,1026.9 L1124.5,1026.7 L1126.5,1026.5 L1128.5,1026.3 L1130.5,1026.1 L1132.5,1025.9 L1134.5,1025.7 L1136.5,1025.5 L1138.5,1025.3 L1140.5,1025.1 L1142.4,1024.9 L1144.4,1024.7 L1146.4,1024.5 L1148.4,1024.4 L1150.4,1024.2 L1152.4,1024.0 L1154.4,1023.8 L1156.4,1023.6 L1158.4,1023.4 L1160.4,1023.2 L1162.4,1023.0 L1164.4,1022.8 L1166.4,1022.6 L1168.4,1022.5 L1170.4,1022.3 L1172.3,1022.1 L1174.3,1021.8 L1176.3,1021.6 L1178.3,1021.4 L1180.3,1021.2 L1182.3,1020.9 L1184.3,1020.6 L1186.3,1020.4 L1188.2,1020.1 L1190.2,1019.8 L1192.2,1019.5 L1194.2,1019.2 L1196.2,1018.8 L1198.1,1018.5 L1200.1,1018.2 L1202.1,1017.9 L1204.1,1017.6 L1206.1,1017.3 L1208.0,1017.1 L1210.0,1016.8 L1212.0,1016.6 L1214.0,1016.4 L1216.0,1016.2 L1218.0,1016.0 L1220.0,1015.8 L1222.0,1015.7 L1224.0,1015.5 L1226.0,1015.3 L1228.0,1015.2 L1230.0,1015.0 L1232.0,1014.8 L1234.0,1014.7 L1235.9,1014.4 L1237.9,1014.2 L1239.9,1013.9 L1241.9,1013.7 L1243.9,1013.4 L1245.8,1013.0 L1247.8,1012.7 L1249.8,1012.3 L1251.8,1011.9 L1253.7,1011.6 L1255.7,1011.2 L1257.6,1010.8 L1259.6,1010.4 L1261.6,1010.0 L1263.5,1009.6 L1265.5,1009.2 L1267.5,1008.9 L1269.4,1008.5 L1271.4,1008.2 L1273.4,1007.8 L1275.4,1007.5 L1277.4,1007.2 L1279.3,1006.9 L1281.3,1006.6 L1283.3,1006.3 L1285.3,1006.1 L1287.3,1005.8 L1289.2,1005.5 L1291.2,1005.2 L1293.2,1004.8 L1295.2,1004.5 L1297.1,1004.2 L1299.1,1003.8 L1301.1,1003.3 L1303.0,1002.9 L1304.9,1002.4 L1306.9,1001.9 L1308.8,1001.3 L1310.7,1000.8 L1312.6,1000.2 L1314.6,999.6 L1316.5,999.0 L1318.4,998.5 L1320.3,998.0 L1322.3,997.5 L1324.2,997.0 L1326.2,996.6 L1328.1,996.1 L1330.1,995.7 L1332.0,995.3 L1334.0,994.8 L1335.9,994.3 L1337.9,993.8 L1339.8,993.3 L1341.7,992.7 L1343.6,992.1 L1345.5,991.5 L1347.4,990.9 L1349.3,990.2 L1351.2,989.5 L1353.1,988.8 L1354.9,988.1 L1356.8,987.4 L1358.6,986.6 L1360.5,985.8 L1362.3,985.0 L1364.1,984.2 L1365.9,983.2 L1367.6,982.3 L1369.3,981.2 L1371.0,980.1 L1372.6,979.0 L1374.2,977.8 L1375.8,976.6 L1377.4,975.4 L1379.0,974.2 L1380.6,972.9 L1382.1,971.7 L1383.7,970.5 L1385.3,969.3 L1387.0,968.2 L1388.6,967.0 L1390.3,966.0 L1392.0,964.9 L1393.7,963.9 L1395.4,962.8 L1397.1,961.7 L1398.8,960.6 L1400.4,959.5 L1402.0,958.3 L1403.6,957.1 L1405.1,955.8 L1406.7,954.5 L1408.1,953.2 L1409.6,951.8 L1411.0,950.4 L1412.4,949.0 L1413.9,947.6 L1415.3,946.2 L1416.8,944.9 L1418.3,943.5 L1419.8,942.2 L1421.4,941.0 L1422.9,939.7 L1424.5,938.4 L1426.0,937.2 L1427.6,935.9 L1429.1,934.6 L1430.6,933.3 L1432.1,932.0 L1433.7,930.7 L1435.2,929.4 L1436.7,928.0 L1438.1,926.7 L1439.6,925.3 L1441.1,924.0 L1442.6,922.6 L1444.0,921.3 L1445.5,919.9 L1446.9,918.5 L1448.3,917.1 L1449.8,915.7 L1451.2,914.3 L1452.6,912.9 L1454.1,911.5 L1455.5,910.2 L1457.0,908.8 L1458.4,907.4 L1459.8,906.0 L1461.1,904.5 L1462.4,903.0 L1463.6,901.4 L1464.8,899.8 L1465.9,898.2 L1467.0,896.5 L1468.1,894.8 L1469.2,893.1 L1470.3,891.4 L1471.3,889.7 L1472.4,888.1 L1473.4,886.4 L1474.5,884.6 L1475.5,882.9 L1476.5,881.2 L1477.5,879.4 L1478.4,877.7 L1479.3,875.9 L1480.1,874.1 L1481.0,872.2 L1481.8,870.4 L1482.6,868.6 L1483.4,866.7 L1484.2,864.9 L1485.0,863.1 L1485.8,861.3 L1486.7,859.4 L1487.6,857.6 L1488.4,855.9 L1489.3,854.1 L1490.2,852.3 L1491.1,850.5 L1491.9,848.6 L1492.8,846.8 L1493.6,845.0 L1494.3,843.1 L1495.1,841.3 L1495.8,839.4 L1496.6,837.6 L1497.3,835.7 L1498.0,833.8 L1498.7,831.9 L1499.3,830.1 L1500.0,828.2 L1500.7,826.3 L1501.3,824.4 L1502.0,822.5 L1502.7,820.6 L1503.3,818.7 L1504.0,816.8 L1504.6,814.9 L1505.2,813.0 L1505.8,811.1 L1506.3,809.2 L1506.8,807.2 L1507.3,805.3 L1507.8,803.3 L1508.2,801.4 L1508.7,799.4 L1509.1,797.5 L1509.5,795.5 L1509.9,793.6 L1510.3,791.6 L1510.6,789.6 L1511.0,787.7 L1511.4,785.7 L1511.8,783.7 L1512.2,781.8 L1512.6,779.8 L1513.1,777.9 L1513.6,775.9 L1514.2,774.0 L1514.7,772.1 L1515.4,770.2 L1516.0,768.3 L1516.6,766.4 L1517.2,764.5 L1517.9,762.6 L1518.5,760.7 L1519.0,758.8 L1519.6,756.8 L1520.1,754.9 L1520.6,753.0 L1521.1,751.0 L1521.5,749.1 L1521.9,747.1 L1522.3,745.2 L1522.7,743.2 L1523.1,741.2 L1523.6,739.3 L1524.1,737.4 L1524.6,735.4 L1525.2,733.5 L1525.8,731.6 L1526.4,729.7 L1527.0,727.8 L1527.6,725.9 L1528.2,724.0 L1528.8,722.1 L1529.5,720.2 L1530.1,718.3 L1530.6,716.3 L1531.2,714.4 L1531.7,712.5 L1532.1,710.5 L1532.6,708.6 L1533.0,706.6 L1533.3,704.6 L1533.7,702.7 L1534.0,700.7 L1534.3,698.7 L1534.6,696.7 L1534.9,694.8 L1535.2,692.8 L1535.5,690.8 L1535.8,688.8 L1536.2,686.8 L1536.5,684.9 L1536.9,682.9 L1537.3,681.0 L1537.7,679.0 L1538.2,677.1 L1538.7,675.1 L1539.3,673.2 L1539.8,671.3 L1540.4,669.4 L1540.9,667.4 L1541.5,665.5 L1541.9,663.6 L1542.4,661.6 L1542.8,659.7 L1543.2,657.7 L1543.6,655.7 L1543.9,653.8 L1544.2,651.8 L1544.6,649.8 L1544.9,647.8 L1545.3,645.9 L1545.6,643.9 L1546.0,641.9 L1546.4,640.0 L1546.9,638.0 L1547.3,636.1 L1547.8,634.1 L1548.3,632.2 L1548.8,630.2 L1549.3,628.3 L1549.8,626.4 L1550.3,624.4 L1550.8,622.5 L1551.4,620.6 L1551.9,618.6 L1552.4,616.7 L1553.0,614.8 L1553.5,612.9 L1554.1,610.9 L1554.6,609.0 L1555.2,607.1 L1555.7,605.2 L1556.2,603.2 L1556.8,601.3 L1557.3,599.4 L1557.8,597.4 L1558.3,595.5 L1558.8,593.5 L1559.2,591.6 L1559.7,589.6 L1560.1,587.7 L1560.5,585.7 L1560.9,583.8 L1561.3,581.8 L1561.7,579.8 L1562.1,577.9 L1562.5,575.9 L1562.8,573.9 L1563.2,572.0 L1563.5,570.0 L1563.9,568.0 L1564.2,566.0 L1564.5,564.1 L1564.8,562.1 L1565.1,560.1 L1565.4,558.1 L1565.7,556.1 L1566.0,554.2 L1566.3,552.2 L1566.6,550.2 L1567.0,548.2 L1567.3,546.3 L1567.7,544.3 L1568.1,542.3 L1568.6,540.4 L1569.0,538.4 L1569.5,536.5 L1570.0,534.5 L1570.4,532.6 L1570.9,530.7 L1571.4,528.7 L1571.9,526.8 L1572.4,524.8 L1572.8,522.9 L1573.2,520.9 L1573.6,519.0 L1574.0,517.0 L1574.4,515.0 L1574.7,513.0 L1575.0,511.1 L1575.3,509.1 L1575.6,507.1 L1575.9,505.1 L1576.2,503.2 L1576.6,501.2 L1576.9,499.2 L1577.3,497.2 L1577.6,495.3 L1578.1,493.3 L1578.5,491.4 L1579.0,489.4 L1579.5,487.5 L1580.0,485.6 L1580.5,483.6 L1581.0,481.7 L1581.5,479.7 L1581.9,477.8 L1582.3,475.8 L1582.7,473.9 L1583.1,471.9 L1583.4,469.9 L1583.7,467.9 L1584.1,466.0 L1584.4,464.0 L1584.8,462.0 L1585.1,460.0 L1585.5,458.1 L1585.9,456.1 L1586.3,454.2 L1586.7,452.2 L1587.1,450.2 L1587.6,448.3 L1588.0,446.3 L1588.5,444.4 L1589.0,442.4 L1589.4,440.5 L1589.9,438.6 L1590.4,436.6 L1590.9,434.7 L1591.4,432.7 L1591.8,430.8 L1592.3,428.8 L1592.7,426.9 L1593.1,424.9 L1593.6,423.0 L1594.0,421.0 L1594.4,419.0 L1594.8,417.1 L1595.2,415.1 L1595.7,413.2 L1596.1,411.2 L1596.5,409.3 L1597.0,407.3 L1597.4,405.4 L1597.9,403.4 L1598.4,401.5 L1598.9,399.5 L1599.4,397.6 L1599.9,395.6 L1600.4,393.7 L1600.9,391.8 L1601.4,389.8 L1601.9,387.9 L1602.4,386.0 L1602.9,384.0 L1603.4,382.1 L1603.9,380.1 L1604.4,378.2 L1604.9,376.3 L1605.3,374.3 L1605.7,372.3 L1606.2,370.4 L1606.6,368.4 L1607.0,366.5 L1607.5,364.5 L1607.9,362.6 L1608.3,360.6 L1608.8,358.7 L1609.2,356.7 L1609.6,354.7 L1610.1,352.8 L1610.5,350.8 L1611.0,348.9 L1611.4,346.9 L1611.9,345.0 L1612.3,343.0 L1612.8,341.1 L1613.3,339.1 L1613.7,337.2 L1614.2,335.3 L1614.7,333.3 L1615.2,331.4 L1615.7,329.4 L1616.2,327.5 L1616.7,325.5 L1617.2,323.6 L1617.7,321.7 L1618.2,319.7 L1618.7,317.8 L1619.2,315.9 L1619.8,313.9 L1620.3,312.0 L1620.8,310.1 L1621.4,308.1 L1621.9,306.2 L1622.5,304.3 L1623.1,302.4 L1623.7,300.5 L1624.3,298.6 L1624.9,296.7 L1625.6,294.8 L1626.3,292.9 L1627.0,291.0 L1627.7,289.2 L1628.5,287.3 L1629.3,285.5 L1630.1,283.7 L1631.0,281.9 L1631.8,280.1 L1632.8,278.3 L1633.7,276.5 L1634.7,274.8 L1635.7,273.0 L1636.7,271.3 L1637.7,269.6 L1638.7,267.9 L1639.7,266.1 L1640.8,264.4 L1641.8,262.7 L1642.9,261.0 L1644.0,259.3 L1645.0,257.6 L1646.1,256.0 L1647.2,254.3 L1648.4,252.6 L1649.5,251.0 L1650.7,249.4 L1652.0,247.9 L1653.3,246.4 L1654.7,245.0 L1656.2,243.7 L1657.7,242.4 L1659.3,241.2 L1660.9,240.0 L1662.6,238.9 L1664.3,237.8 L1666.0,236.8 L1667.8,235.9 L1669.5,234.9 L1671.3,234.0 L1673.1,233.1 L1674.9,232.3 L1676.7,231.4 L1678.5,230.5 L1680.3,229.7 L1682.1,228.8 L1683.9,227.9 L1685.7,227.0 L1687.5,226.1 L1689.3,225.2 L1691.1,224.3 L1692.9,223.4 L1694.7,222.6 L1696.5,221.9 L1698.4,221.2 L1700.3,220.6 L1702.2,220.0 L1704.1,219.5 L1706.1,219.1 L1708.1,218.7 L1710.0,218.3 L1712.0,218.0 L1714.0,217.6 L1715.9,217.3 L1717.9,217.0 L1719.9,216.7 L1721.9,216.5 L1723.9,216.2 L1725.9,215.9 L1727.8,215.6 L1729.8,215.4 L1731.8,215.1 L1733.8,214.9 L1735.8,214.6 L1737.8,214.4 L1739.8,214.1 L1741.8,213.9 L1743.7,213.7 L1745.7,213.5 L1747.7,213.2 L1749.7,213.0 L1751.7,212.8 L1753.7,212.6 L1755.7,212.3 L1757.7,212.1 L1759.7,211.8 L1761.6,211.6 L1763.6,211.3 L1765.6,211.1 L1767.6,210.8 L1769.6,210.5 L1771.6,210.3 L1773.6,210.0 L1775.5,209.7 L1777.5,209.5 L1779.5,209.2 L1781.5,209.0 L1783.5,208.7 L1785.5,208.4 L1787.5,208.2 L1789.4,207.9 L1791.4,207.7 L1793.4,207.4 L1795.4,207.1 L1797.4,206.8 L1799.3,206.5 L1801.3,206.2 L1803.3,205.8 L1805.2,205.5 L1807.1,205.1 L1809.0,204.7 L1811.0,204.2 L1813.1,203.8"/>
<path stroke="#808080" d="M479.5,1169.2 L481.2,1167.9 L482.8,1166.7 L484.4,1165.5 L485.9,1164.3 L487.5,1163.2 L489.2,1162.1 L490.9,1161.1 L492.6,1160.2 L494.4,1159.4 L496.3,1158.7 L498.2,1158.1 L500.1,1157.7 L502.0,1157.3 L504.0,1157.1 L506.0,1156.9 L508.0,1156.7 L510.0,1156.7 L512.0,1156.6 L514.0,1156.5 L516.0,1156.5 L518.0,1156.5 L520.0,1156.4 L522.0,1156.4 L524.0,1156.4 L526.0,1156.4 L528.0,1156.4 L530.0,1156.3 L532.0,1156.3 L534.0,1156.3 L536.0,1156.3 L538.0,1156.3 L540.0,1156.3 L542.0,1156.3 L544.0,1156.3 L546.0,1156.3 L548.0,1156.2 L550.1,1156.2 L552.1,1156.2 L554.1,1156.2 L556.1,1156.2 L558.1,1156.2 L560.1,1156.2 L562.1,1156.2 L564.1,1156.2 L566.1,1156.2 L568.1,1156.2 L570.1,1156.2 L572.1,1156.2 L574.1,1156.2 L576.1,1156.2 L578.1,1156.2 L580.1,1156.2 L582.1,1156.2 L584.1,1156.2 L586.1,1156.2 L588.1,1156.2 L590.1,1156.2 L592.1,1156.2 L594.1,1156.2 L596.1,1156.2 L598.1,1156.2 L600.1,1156.2 L602.1,1156.2 L604.1,1156.2 L606.1,1156.2 L608.1,1156.2 L610.1,1156.2 L612.1,1156.2 L614.1,1156.2 L616.1,1156.2 L618.1,1156.3 L620.1,1156.3 L622.1,1156.3 L624.2,1156.3 L626.2,1156.3 L628.2,1156.3 L630.2,1156.3 L632.2,1156.3 L634.2,1156.3 L636.2,1156.3 L638.2,1156.3 L640.2,1156.3 L642.2,1156.3 L644.2,1156.3 L646.2,1156.3 L648.2,1156.4 L650.2,1156.4 L652.2,1156.4 L654.2,1156.4 L656.2,1156.4 L658.2,1156.4 L660.2,1156.4 L662.2,1156.4 L664.2,1156.4 L666.2,1156.4 L668.2,1156.4 L670.2,1156.4 L672.2,1156.4 L674.2,1156.4 L676.2,1156.4 L678.2,1156.5 L680.2,1156.5 L682.2,1156.5 L684.2,1156.5 L686.2,1156.5 L688.2,1156.5 L690.2,1156.5 L692.2,1156.5 L694.2,1156.5 L696.2,1156.5 L698.3,1156.5 L700.3,1156.5 L702.3,1156.5 L704.3,1156.5 L706.3,1156.5 L708.3,1156.5 L710.3,1156.5 L712.3,1156.5 L714.3,1156.5 L716.3,1156.5 L718.3,1156.5 L720.3,1156.5 L722.3,1156.5 L724.3,1156.5 L726.3,1156.5 L728.3,1156.5 L730.3,1156.5 L732.3,1156.5 L734.3,1156.5 L736.3,1156.5 L738.3,1156.5 L740.3,1156.5 L742.3,1156.5 L744.3,1156.5 L746.3,1156.5 L748.3,1156.5 L750.3,1156.5 L752.3,1156.5 L754.3,1156.5 L756.3,1156.5 L758.3,1156.5 L760.3,1156.5 L762.3,1156.5 L764.3,1156.5 L766.3,1156.5 L768.3,1156.5 L770.4,1156.5 L772.4,1156.5 L774.4,1156.5 L776.4,1156.5 L778.4,1156.5 L780.4,1156.5 L782.4,1156.5 L784.4,1156.5 L786.4,1156.5 L788.4,1156.5 L790.4,1156.5 L792.4,1156.5 L794.4,1156.5 L796.4,1156.5 L798.4,1156.5 L800.4,1156.5 L802.4,1156.5 L804.4,1156.5 L806.4,1156.5 L808.4,1156.5 L810.4,1156.5 L812.4,1156.5 L814.4,1156.5 L816.4,1156.5 L818.4,1156.5 L820.4,1156.5 L822.4,1156.6 L824.4,1156.6 L826.4,1156.6 L828.4,1156.6 L830.4,1156.6 L832.4,1156.6 L834.4,1156.6 L836.4,1156.6 L838.4,1156.6 L840.4,1156.6 L842.4,1156.6 L844.5,1156.6 L846.5,1156.6 L848.5,1156.7 L850.5,1156.7 L852.5,1156.7 L854.5,1156.7 L856.5,1156.7 L858.5,1156.7 L860.5,1156.7 L862.5,1156.7 L864.5,1156.7 L866.5,1156.7 L868.5,1156.7 L870.5,1156.7 L872.5,1156.7 L874.5,1156.7 L876.5,1156.8 L878.5,1156.8 L880.5,1156.8 L882.5,1156.8 L884.5,1156.8 L886.5,1156.8 L888.5,1156.8 L890.5,1156.8 L892.5,1156.8 L894.5,1156.8 L896.5,1156.8 L898.5,1156.8 L900.5,1156.8 L902.5,1156.8 L904.5,1156.8 L906.5,1156.8 L908.5,1156.8 L910.5,1156.8 L912.5,1156.8 L914.5,1156.8 L916.6,1156.8 L918.6,1156.8 L920.6,1156.8 L922.6,1156.8 L924.6,1156.8 L926.6,1156.8 L928.6,1156.8 L930.6,1156.8 L932.6,1156.8 L934.6,1156.7 L936.6,1156.7 L938.6,1156.7 L940.6,1156.7 L942.6,1156.7 L944.6,1156.6 L946.6,1156.6 L948.6,1156.6 L950.6,1156.5 L952.6,1156.5 L954.6,1156.4 L956.6,1156.4 L958.6,1156.3 L960.6,1156.3 L962.6,1156.2 L964.6,1156.1 L966.6,1156.0 L968.6,1156.0 L970.6,1155.9 L972.6,1155.8 L974.6,1155.7 L976.6,1155.6 L978.6,1155.5 L980.6,1155.3 L982.6,1155.2 L984.6,1155.1 L986.6,1155.0 L988.6,1154.9 L990.6,1154.8 L992.6,1154.7 L994.6,1154.6 L996.6,1154.6 L998.6,1154.5 L1000.6,1154.4 L1002.6,1154.3 L1004.6,1154.3 L1006.6,1154.2 L1008.6,1154.2 L1010.6,1154.1 L1012.6,1154.1 L1014.6,1154.0 L1016.6,1154.0 L1018.6,1153.9 L1020.6,1153.9 L1022.6,1153.8 L1024.6,1153.8 L1026.6,1153.7 L1028.6,1153.7 L1030.6,1153.6 L1032.6,1153.6 L1034.7,1153.5 L1036.7,1153.5 L1038.7,1153.5 L1040.7,1153.4 L1042.7,1153.4 L1044.7,1153.3 L1046.7,1153.3 L1048.7,1153.2 L1050.7,1153.2 L1052.7,1153.1 L1054.7,1153.1 L1056.7,1153.0 L1058.7,1152.9 L1060.7,1152.9 L1062.7,1152.8 L1064.7,1152.8 L1066.7,1152.7 L1068.7,1152.6 L1070.7,1152.6 L1072.7,1152.5 L1074.7,1152.4 L1076.7,1152.4 L1078.7,1152.3 L1080.7,1152.2 L1082.7,1152.2 L1084.7,1152.1 L1086.7,1152.0 L1088.7,1152.0 L1090.7,1151.9 L1092.7,1151.8 L1094.7,1151.7 L1096.7,1151.7 L1098.7,1151.6 L1100.7,1151.5 L1102.7,1151.4 L1104.7,1151.4 L1106.7,1151.3 L1108.7,1151.2 L1110.7,1151.1 L1112.7,1151.0 L1114.7,1151.0 L1116.7,1150.9 L1118.7,1150.8 L1120.7,1150.7 L1122.7,1150.6 L1124.7,1150.5 L1126.7,1150.4 L1128.7,1150.3 L1130.7,1150.2 L1132.7,1150.1 L1134.7,1150.0 L1136.7,1149.9 L1138.7,1149.8 L1140.7,1149.7 L1142.7,1149.6 L1144.7,1149.5 L1146.7,1149.4 L1148.7,1149.3 L1150.7,1149.2 L1152.7,1149.1 L1154.7,1149.0 L1156.7,1148.9 L1158.7,1148.8 L1160.7,1148.7 L1162.7,1148.6 L1164.7,1148.5 L1166.7,1148.4 L1168.7,1148.3 L1170.7,1148.2 L1172.7,1148.1 L1174.7,1148.0 L1176.7,1147.9 L1178.7,1147.8 L1180.7,1147.7 L1182.7,1147.6 L1184.7,1147.5 L1186.7,1147.4 L1188.7,1147.3 L1190.7,1147.3 L1192.7,1147.2 L1194.7,1147.1 L1196.7,1147.0 L1198.7,1146.9 L1200.7,1146.8 L1202.7,1146.7 L1204.7,1146.6 L1206.7,1146.5 L1208.7,1146.4 L1210.7,1146.3 L1212.7,1146.3 L1214.7,1146.2 L1216.7,1146.1 L1218.7,1146.0 L1220.7,1145.9 L1222.7,1145.8 L1224.7,1145.7 L1226.7,1145.6 L1228.7,1145.6 L1230.7,1145.5 L1232.7,1145.4 L1234.7,1145.3 L1236.7,1145.2 L1238.7,1145.1 L1240.8,1145.1 L1242.8,1145.0 L1244.8,1144.9 L1246.8,1144.8 L1248.8,1144.8 L1250.8,1144.7 L1252.8,1144.6 L1254.8,1144.6 L1256.8,1144.5 L1258.8,1144.5 L1260.8,1144.4 L1262.8,1144.4 L1264.8,1144.4 L1266.8,1144.3 L1268.8,1144.3 L1270.8,1144.3 L1272.8,1144.3 L1274.8,1144.3 L1276.8,1144.2 L1278.8,1144.2 L1280.8,1144.2 L1282.8,1144.1 L1284.8,1144.1 L1286.8,1144.0 L1288.8,1144.0 L1290.8,1143.9 L1292.8,1143.8 L1294.8,1143.7 L1296.8,1143.6 L1298.8,1143.4 L1300.8,1143.2 L1302.8,1142.9 L1304.7,1142.6 L1306.7,1142.3 L1308.7,1141.9 L1310.6,1141.5 L1312.6,1141.0 L1314.5,1140.6 L1316.5,1140.1 L1318.4,1139.7 L1320.4,1139.3 L1322.4,1138.9 L1324.3,1138.6 L1326.3,1138.3 L1328.3,1138.0 L1330.3,1137.7 L1332.2,1137.4 L1334.2,1137.1 L1336.2,1136.8 L1338.2,1136.5 L1340.2,1136.2 L1342.1,1135.9 L1344.1,1135.5 L1346.1,1135.1 L1348.0,1134.8 L1350.0,1134.4 L1352.0,1134.0 L1353.9,1133.6 L1355.9,1133.2 L1357.9,1132.8 L1359.8,1132.3 L1361.8,1131.9 L1363.7,1131.4 L1365.7,1131.0 L1367.6,1130.5 L1369.6,1130.0 L1371.5,1129.6 L1373.4,1129.1 L1375.4,1128.6 L1377.3,1128.1 L1379.3,1127.5 L1381.2,1127.0 L1383.1,1126.5 L1385.0,1125.9 L1387.0,1125.3 L1388.9,1124.8 L1390.8,1124.2 L1392.7,1123.6 L1394.6,1123.0 L1396.5,1122.4 L1398.4,1121.8 L1400.3,1121.2 L1402.3,1120.6 L1404.2,1119.9 L1406.1,1119.3 L1407.9,1118.7 L1409.8,1118.0 L1411.7,1117.3 L1413.6,1116.7 L1415.5,1116.0 L1417.4,1115.3 L1419.3,1114.6 L1421.1,1113.9 L1423.0,1113.2 L1424.9,1112.5 L1426.8,1111.8 L1428.6,1111.1 L1430.5,1110.3 L1432.3,1109.6 L1434.2,1108.8 L1436.1,1108.1 L1437.9,1107.3 L1439.7,1106.5 L1441.6,1105.7 L1443.4,1104.9 L1445.2,1104.1 L1447.1,1103.3 L1448.9,1102.6 L1450.8,1101.9 L1452.7,1101.3 L1454.6,1100.7 L1456.5,1100.2 L1458.5,1099.7 L1460.4,1099.3 L1462.4,1098.8 L1464.3,1098.3 L1466.2,1097.8 L1468.2,1097.3 L1470.1,1096.8 L1472.0,1096.2 L1473.9,1095.6 L1475.8,1094.9 L1477.7,1094.2 L1479.4,1093.4 L1481.2,1092.4 L1482.9,1091.4 L1484.5,1090.3 L1486.1,1089.1 L1487.6,1087.8 L1489.1,1086.5 L1490.6,1085.1 L1492.1,1083.7 L1493.5,1082.3 L1494.9,1080.9 L1496.3,1079.5 L1497.8,1078.1 L1499.2,1076.8 L1500.7,1075.4 L1502.1,1074.0 L1503.6,1072.7 L1505.1,1071.3 L1506.6,1070.0 L1508.1,1068.6 L1509.6,1067.3 L1511.1,1066.0 L1512.6,1064.7 L1514.1,1063.4 L1515.6,1062.1 L1517.1,1060.7 L1518.6,1059.4 L1520.1,1058.0 L1521.5,1056.7 L1523.0,1055.3 L1524.4,1053.8 L1525.8,1052.4 L1527.1,1050.9 L1528.4,1049.4 L1529.7,1047.9 L1531.0,1046.3 L1532.2,1044.7 L1533.3,1043.1 L1534.4,1041.4 L1535.5,1039.8 L1536.6,1038.1 L1537.6,1036.3 L1538.6,1034.6 L1539.7,1032.9 L1540.8,1031.2 L1541.8,1029.5 L1542.9,1027.9 L1544.0,1026.2 L1545.1,1024.5 L1546.3,1022.9 L1547.4,1021.2 L1548.5,1019.6 L1549.7,1017.9 L1550.9,1016.3 L1552.0,1014.7 L1553.2,1013.1 L1554.4,1011.5 L1555.6,1009.9 L1556.7,1008.2 L1557.9,1006.6 L1559.0,1004.9 L1560.0,1003.2 L1561.0,1001.5 L1562.0,999.7 L1562.9,998.0 L1563.8,996.2 L1564.6,994.3 L1565.4,992.5 L1566.1,990.6 L1566.8,988.8 L1567.5,986.9 L1568.2,985.0 L1568.8,983.1 L1569.4,981.2 L1570.1,979.3 L1570.7,977.4 L1571.3,975.5 L1571.9,973.6 L1572.5,971.7 L1573.2,969.8 L1573.8,967.9 L1574.4,966.0 L1575.0,964.1 L1575.6,962.2 L1576.3,960.2 L1576.9,958.3 L1577.5,956.4 L1578.2,954.5 L1578.8,952.6 L1579.4,950.7 L1580.1,948.8 L1580.7,946.9 L1581.3,945.0 L1581.9,943.1 L1582.5,941.2 L1583.1,939.3 L1583.6,937.4 L1584.2,935.5 L1584.7,933.5 L1585.3,931.6 L1585.8,929.7 L1586.3,927.7 L1586.7,925.8 L1587.2,923.8 L1587.6,921.9 L1588.0,919.9 L1588.4,917.9 L1588.8,916.0 L1589.2,914.0 L1589.5,912.0 L1589.9,910.1 L1590.2,908.1 L1590.6,906.1 L1591.0,904.2 L1591.3,902.2 L1591.7,900.2 L1592.1,898.3 L1592.5,896.3 L1593.0,894.3 L1593.4,892.4 L1593.8,890.4 L1594.3,888.5 L1594.7,886.5 L1595.1,884.6 L1595.5,882.6 L1595.9,880.7 L1596.3,878.7 L1596.7,876.7 L1597.1,874.8 L1597.5,872.8 L1597.8,870.8 L1598.2,868.8 L1598.5,866.9 L1598.9,864.9 L1599.2,862.9 L1599.6,861.0 L1599.9,859.0 L1600.2,857.0 L1600.6,855.0 L1600.9,853.1 L1601.3,851.1 L1601.6,849.1 L1601.9,847.1 L1602.3,845.2 L1602.6,843.2 L1603.0,841.2 L1603.3,839.2 L1603.7,837.3 L1604.0,835.3 L1604.4,833.3 L1604.7,831.4 L1605.1,829.4 L1605.4,827.4 L1605.8,825.4 L1606.1,823.5 L1606.5,821.5 L1606.8,819.5 L1607.2,817.6 L1607.5,815.6 L1607.9,813.6 L1608.2,811.6 L1608.6,809.7 L1608.9,807.7 L1609.2,805.7 L1609.6,803.7 L1609.9,801.8 L1610.3,799.8 L1610.6,797.8 L1610.9,795.9 L1611.3,793.9 L1611.6,791.9 L1611.9,789.9 L1612.2,787.9 L1612.6,786.0 L1612.9,784.0 L1613.2,782.0 L1613.5,780.0 L1613.8,778.1 L1614.2,776.1 L1614.5,774.1 L1614.8,772.1 L1615.1,770.2 L1615.4,768.2 L1615.8,766.2 L1616.1,764.2 L1616.5,762.3 L1616.8,760.3 L1617.2,758.3 L1617.6,756.4 L1618.0,754.4 L1618.4,752.4 L1618.9,750.5 L1619.3,748.5 L1619.8,746.6 L1620.2,744.6 L1620.6,742.7 L1621.0,740.7 L1621.4,738.7 L1621.7,736.8 L1622.1,734.8 L1622.4,732.8 L1622.7,730.8 L1622.9,728.9 L1623.2,726.9 L1623.5,724.9 L1623.7,722.9 L1624.0,720.9 L1624.3,718.9 L1624.5,716.9 L1624.8,715.0 L1625.1,713.0 L1625.3,711.0 L1625.6,709.0 L1625.9,707.0 L1626.2,705.0 L1626.4,703.1 L1626.7,701.1 L1627.0,699.1 L1627.2,697.1 L1627.5,695.1 L1627.8,693.1 L1628.1,691.2 L1628.3,689.2 L1628.6,687.2 L1628.9,685.2 L1629.2,683.2 L1629.5,681.2 L1629.8,679.3 L1630.1,677.3 L1630.4,675.3 L1630.7,673.3 L1631.0,671.3 L1631.4,669.4 L1631.7,667.4 L1632.0,665.4 L1632.3,663.4 L1632.6,661.5 L1633.0,659.5 L1633.3,657.5 L1633.6,655.5 L1633.9,653.6 L1634.3,651.6 L1634.6,649.6 L1634.9,647.6 L1635.2,645.7 L1635.5,643.7 L1635.8,641.7 L1636.1,639.7 L1636.4,637.7 L1636.7,635.7 L1637.0,633.8 L1637.3,631.8 L1637.5,629.8 L1637.8,627.8 L1638.1,625.8 L1638.3,623.8 L1638.6,621.9 L1638.9,619.9 L1639.2,617.9 L1639.4,615.9 L1639.7,613.9 L1640.0,611.9 L1640.3,610.0 L1640.6,608.0 L1640.9,606.0 L1641.2,604.0 L1641.5,602.0 L1641.8,600.1 L1642.1,598.1 L1642.4,596.1 L1642.7,594.1 L1643.0,592.1 L1643.3,590.2 L1643.6,588.2 L1643.9,586.2 L1644.2,584.2 L1644.5,582.2 L1644.8,580.3 L1645.1,578.3 L1645.5,576.3 L1645.8,574.3 L1646.1,572.4 L1646.4,570.4 L1646.7,568.4 L1647.0,566.4 L1647.3,564.4 L1647.6,562.5 L1647.9,560.5 L1648.2,558.5 L1648.5,556.5 L1648.8,554.5 L1649.1,552.6 L1649.4,550.6 L1649.7,548.6 L1650.0,546.6 L1650.3,544.6 L1650.5,542.6 L1650.8,540.7 L1651.1,538.7 L1651.4,536.7 L1651.7,534.7 L1652.0,532.7 L1652.3,530.8 L1652.6,528.8 L1652.9,526.8 L1653.2,524.8 L1653.5,522.8 L1653.9,520.9 L1654.2,518.9 L1654.5,516.9 L1654.9,514.9 L1655.2,513.0 L1655.6,511.0 L1656.0,509.0 L1656.3,507.1 L1656.7,505.1 L1657.1,503.1 L1657.5,501.2 L1657.9,499.2 L1658.3,497.2 L1658.7,495.3 L1659.1,493.3 L1659.5,491.4 L1659.9,489.4 L1660.3,487.4 L1660.7,485.5 L1661.1,483.5 L1661.5,481.6 L1661.9,479.6 L1662.3,477.6 L1662.7,475.7 L1663.1,473.7 L1663.5,471.7 L1663.9,469.8 L1664.3,467.8 L1664.7,465.8 L1665.1,463.9 L1665.4,461.9 L1665.8,459.9 L1666.1,458.0 L1666.5,456.0 L1666.8,454.0 L1667.2,452.1 L1667.5,450.1 L1667.8,448.1 L1668.2,446.1 L1668.5,444.2 L1668.8,442.2 L1669.1,440.2 L1669.4,438.2 L1669.7,436.2 L1670.1,434.3 L1670.4,432.3 L1670.7,430.3 L1671.0,428.3 L1671.3,426.3 L1671.6,424.4 L1671.9,422.4 L1672.3,420.4 L1672.6,418.4 L1672.9,416.5 L1673.3,414.5 L1673.6,412.5 L1674.0,410.5 L1674.3,408.6 L1674.7,406.6 L1675.1,404.6 L1675.5,402.7 L1675.9,400.7 L1676.3,398.8 L1676.7,396.8 L1677.1,394.8 L1677.5,392.9 L1677.9,390.9 L1678.3,389.0 L1678.7,387.0 L1679.2,385.0 L1679.6,383.1 L1680.1,381.1 L1680.5,379.2 L1681.0,377.2 L1681.4,375.3 L1681.9,373.3 L1682.4,371.4 L1682.8,369.4 L1683.3,367.5 L1683.8,365.6 L1684.3,363.6 L1684.8,361.7 L1685.3,359.7 L1685.9,357.8 L1686.4,355.9 L1686.9,354.0 L1687.5,352.0 L1688.1,350.1 L1688.7,348.2 L1689.3,346.3 L1689.9,344.4 L1690.5,342.5 L1691.2,340.6 L1691.8,338.7 L1692.5,336.8 L1693.2,334.9 L1693.8,333.0 L1694.5,331.2 L1695.2,329.3 L1695.9,327.4 L1696.5,325.5 L1697.2,323.6 L1697.9,321.7 L1698.6,319.8 L1699.2,318.0 L1699.9,316.1 L1700.6,314.2 L1701.3,312.3 L1701.9,310.4 L1702.6,308.5 L1703.4,306.7 L1704.1,304.8 L1704.8,302.9 L1705.6,301.1 L1706.3,299.2 L1707.1,297.4 L1707.9,295.5 L1708.7,293.7 L1709.5,291.9 L1710.3,290.0 L1711.1,288.2 L1712.0,286.4 L1712.8,284.6 L1713.7,282.8 L1714.6,281.0 L1715.5,279.2 L1716.4,277.4 L1717.3,275.6 L1718.2,273.9 L1719.2,272.1 L1720.2,270.4 L1721.1,268.6 L1722.1,266.9 L1723.2,265.2 L1724.2,263.5 L1725.3,261.8 L1726.3,260.1 L1727.4,258.4 L1728.5,256.7 L1729.7,255.1 L1730.8,253.4 L1732.0,251.8 L1733.1,250.2 L1734.3,248.6 L1735.6,247.0 L1736.8,245.4 L1738.1,243.9 L1739.4,242.4 L1740.8,240.9 L1742.1,239.4 L1743.5,238.0 L1744.9,236.6 L1746.4,235.2 L1747.9,233.9 L1749.4,232.5 L1750.9,231.2 L1752.4,230.0 L1754.0,228.7 L1755.6,227.5 L1757.2,226.4 L1758.9,225.2 L1760.6,224.1 L1762.2,223.1 L1764.0,222.1 L1765.7,221.1 L1767.5,220.1 L1769.3,219.2 L1771.1,218.4 L1772.9,217.6 L1774.7,216.8 L1776.6,216.0 L1778.4,215.3 L1780.3,214.6 L1782.2,213.9 L1784.1,213.2 L1786.0,212.6 L1787.9,212.0 L1789.8,211.4 L1791.7,210.8 L1793.6,210.3 L1795.6,209.7 L1797.5,209.2 L1799.5,208.7 L1801.4,208.2 L1803.3,207.8 L1805.3,207.3 L1807.2,206.8 L1809.1,206.4 L1811.0,206.0 L1813.0,205.5 L1814.9,205.1 L1817.0,204.6"/>
</g>
<path d="M332.7,127.2 H349.3 M332.7,201.8 H360.3 M332.7,276.4 H349.3 M332.7,351.0 H360.3 M332.7,425.5 H349.3 M332.7,500.1 H360.3 M332.7,574.7 H349.3 M332.7,649.2 H360.3 M332.7,723.8 H349.3 M332.7,798.4 H360.3 M332.7,873.0 H349.3 M332.7,947.5 H360.3 M332.7,1022.1 H349.3 M332.7,1096.7 H360.3 M332.7,1171.3 H349.3 M482.0,1243.9 V1229.3 M482.0,54.4 V67.5 M630.0,1243.9 V1217.3 M630.0,54.4 V78.5 M778.1,1243.9 V1229.3 M778.1,54.4 V67.5 M926.1,1243.9 V1217.3 M926.1,54.4 V78.5 M1074.1,1243.9 V1229.3 M1074.1,54.4 V67.5 M1222.2,1243.9 V1217.3 M1222.2,54.4 V78.5 M1370.2,1243.9 V1229.3 M1370.2,54.4 V67.5 M1518.2,1243.9 V1217.3 M1518.2,54.4 V78.5 M1666.2,1243.9 V1229.3 M1666.2,54.4 V67.5 M1814.2,1243.9 V1217.3 M1814.2,54.4 V78.5 M1961.5,171.7 H1936.9 M1961.5,291.0 H1947.9 M1961.5,410.4 H1936.9 M1961.5,529.8 H1947.9 M1961.5,649.1 H1936.9 M1961.5,768.4 H1947.9 M1961.5,887.8 H1936.9 M1961.5,1007.1 H1947.9 M1961.5,1126.5 H1936.9" stroke="#000" stroke-width="4.8" fill="none"/>
<rect x="330" y="51.9" width="1634.1" height="2.6" fill="#000"/>
<rect x="335.4" y="54.5" width="1623.5" height="2.4" fill="#7a7272"/>
<rect x="330" y="51.9" width="2.7" height="1194.8" fill="#2b2b2b"/>
<rect x="332.7" y="51.9" width="2.7" height="1194.8" fill="#000"/>
<rect x="1958.9" y="56.9" width="2.6" height="1189.8" fill="#243232"/>
<rect x="1961.5" y="51.9" width="2.6" height="1194.8" fill="#000"/>
<rect x="330" y="1241.1" width="1634.1" height="5.6" fill="#000"/>
<g fill="#000" style="font-kerning:none;font-variant-ligatures:none">
<text font-family="&apos;Liberation Sans&apos;, Arial, sans-serif" font-size="71.5" transform="translate(210.33,73.50) scale(0.9573,1)">0.5</text>
<text font-family="&apos;Liberation Sans&apos;, Arial, sans-serif" font-size="68.5" transform="translate(210.34,220.00) scale(0.9947,1)">0.0</text>
<text font-family="&apos;Liberation Sans&apos;, Arial, sans-serif" font-size="68.5" transform="translate(182.94,368.85) scale(1.0373,1)">-0.5</text>
<text font-family="&apos;Liberation Sans&apos;, Arial, sans-serif" font-size="68.5" transform="translate(182.95,517.70) scale(1.0355,1)">-1.0</text>
<text font-family="&apos;Liberation Sans&apos;, Arial, sans-serif" font-size="68.5" transform="translate(182.94,666.55) scale(1.0373,1)">-1.5</text>
<text font-family="&apos;Liberation Sans&apos;, Arial, sans-serif" font-size="68.5" transform="translate(182.95,815.40) scale(1.0355,1)">-2.0</text>
<text font-family="&apos;Liberation Sans&apos;, Arial, sans-serif" font-size="68.5" transform="translate(182.94,964.25) scale(1.0373,1)">-2.5</text>
<text font-family="&apos;Liberation Sans&apos;, Arial, sans-serif" font-size="68.5" transform="translate(182.95,1113.10) scale(1.0355,1)">-3.0</text>
<text font-family="&apos;Liberation Sans&apos;, Arial, sans-serif" font-size="68.5" transform="translate(182.94,1261.95) scale(1.0373,1)">-3.5</text>
<text font-family="&apos;Liberation Sans&apos;, Arial, sans-serif" font-size="72.5" transform="translate(283.65,1324.80) scale(0.9693,1)">0.0</text>
<text font-family="&apos;Liberation Sans&apos;, Arial, sans-serif" font-size="72.5" transform="translate(581.61,1324.80) scale(0.9501,1)">0.2</text>
<text font-family="&apos;Liberation Sans&apos;, Arial, sans-serif" font-size="72.5" transform="translate(877.23,1324.80) scale(0.9433,1)">0.4</text>
<text font-family="&apos;Liberation Sans&apos;, Arial, sans-serif" font-size="72.5" transform="translate(1171.84,1324.80) scale(0.9740,1)">0.6</text>
<text font-family="&apos;Liberation Sans&apos;, Arial, sans-serif" font-size="72.5" transform="translate(1468.45,1324.80) scale(0.9726,1)">0.8</text>
<text font-family="&apos;Liberation Sans&apos;, Arial, sans-serif" font-size="72.5" transform="translate(1767.34,1324.80) scale(0.9337,1)">1.0</text>
<text font-family="&apos;Liberation Sans&apos;, Arial, sans-serif" font-size="92" transform="translate(693.45,1461.80) scale(1.0006,1)">Potential vs. RHE</text>
<text font-family="&apos;Liberation Sans&apos;, Arial, sans-serif" font-size="92" transform="translate(1464.70,1461.80) scale(0.9781,1)">/</text>
<text font-family="&apos;Liberation Sans&apos;, Arial, sans-serif" font-size="92" transform="translate(1539.59,1461.80) scale(1.0024,1)">V</text>
<g transform="translate(120.5,0) rotate(-90)">
<text font-family="&apos;Liberation Sans&apos;, Arial, sans-serif" font-size="93.5" transform="translate(-1215.63,0.00) scale(0.9760,1)">Current density</text>
<text font-family="&apos;Liberation Sans&apos;, Arial, sans-serif" font-size="93.5" transform="translate(-544.50,0.00) scale(0.9431,1)">/</text>
<text font-family="&apos;Liberation Sans&apos;, Arial, sans-serif" font-size="93.5" transform="translate(-442.82,0.00) scale(0.9854,1)">mA</text>
<text font-family="&apos;Liberation Sans&apos;, Arial, sans-serif" font-size="93.5" transform="translate(-281.37,0.00) scale(0.9991,1)">cm</text>
<text font-family="&apos;Liberation Sans&apos;, Arial, sans-serif" font-size="56.3" transform="translate(-159.63,-50.50) scale(1.0106,1)">-2</text>
</g>
<text font-family="&apos;Liberation Sans&apos;, Arial, sans-serif" font-size="72" transform="translate(579.13,171.40) scale(0.9776,1)">rGO</text>
<text font-family="&apos;Liberation Sans&apos;, Arial, sans-serif" font-size="72" transform="translate(578.50,258.30) scale(0.9828,1)">NGO</text>
<text font-family="&apos;Liberation Sans&apos;, Arial, sans-serif" font-size="72" transform="translate(579.66,343.30) scale(0.9781,1)">Ag-Mn</text>
<text font-family="&apos;Liberation Sans&apos;, Arial, sans-serif" font-size="39" transform="translate(787.81,370.40) scale(0.9011,1)">x</text>
<text font-family="&apos;Liberation Sans&apos;, Arial, sans-serif" font-size="72" transform="translate(807.76,343.30) scale(0.9807,1)">O</text>
<text font-family="&apos;Liberation Sans&apos;, Arial, sans-serif" font-size="39" transform="translate(865.22,370.40) scale(0.8071,1)">y</text>
<text font-family="&apos;Liberation Sans&apos;, Arial, sans-serif" font-size="72" transform="translate(883.40,343.30) scale(0.9801,1)">/rGO</text>
<text font-family="&apos;Liberation Sans&apos;, Arial, sans-serif" font-size="72" transform="translate(580.36,452.20) scale(0.9747,1)">Ag-Mn</text>
<text font-family="&apos;Liberation Sans&apos;, Arial, sans-serif" font-size="39" transform="translate(787.31,479.10) scale(0.8958,1)">x</text>
<text font-family="&apos;Liberation Sans&apos;, Arial, sans-serif" font-size="72" transform="translate(807.43,452.20) scale(0.9888,1)">O</text>
<text font-family="&apos;Liberation Sans&apos;, Arial, sans-serif" font-size="39" transform="translate(864.52,479.10) scale(0.8588,1)">y</text>
<text font-family="&apos;Liberation Sans&apos;, Arial, sans-serif" font-size="72" transform="translate(883.80,452.20) scale(0.9786,1)">/NGO</text>
<text font-family="&apos;Liberation Sans&apos;, Arial, sans-serif" font-size="72" transform="translate(577.92,561.60) scale(0.9956,1)">Pt/C</text>
</g>
<path d="M399,148.5 H564.6" stroke="#ff0000" stroke-width="8.5" fill="none" stroke-dasharray="23 16.5"/>
<path d="M399,233.0 H564.6" stroke="#0000ff" stroke-width="8.5" fill="none" stroke-dasharray="23 16.5"/>
<path d="M399,320.1 H564.6" stroke="#ff0000" stroke-width="8.5" fill="none"/>
<path d="M399,429.5 H564.6" stroke="#0000ff" stroke-width="8.5" fill="none"/>
<path d="M399,538.7 H564.6" stroke="#808080" stroke-width="8.5" fill="none"/>
</svg>
</body></html>
